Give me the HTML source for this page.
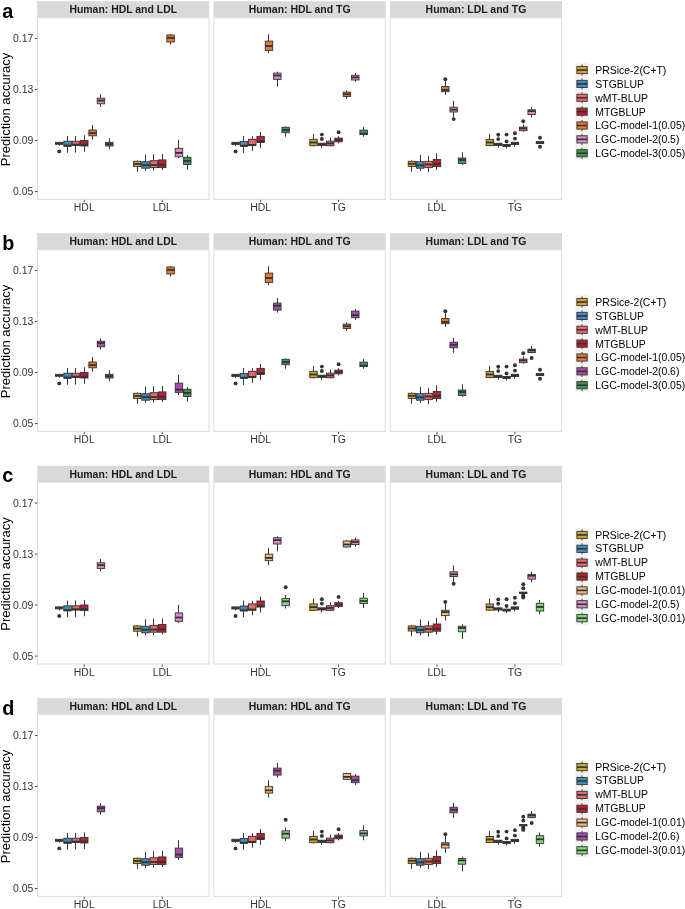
<!DOCTYPE html>
<html><head><meta charset="utf-8"><style>
html,body{margin:0;padding:0;background:#fff;}
svg{display:block;will-change:transform;}
text{font-family:"Liberation Sans",sans-serif;}
</style></head><body>
<svg xmlns="http://www.w3.org/2000/svg" width="685" height="909" viewBox="0 0 685 909">
<rect width="685" height="909" fill="#fff"/>
<text x="2.3" y="17.50" font-size="19.8" font-weight="700" fill="#000">a</text>
<text transform="translate(10.0 109.45) rotate(-90)" text-anchor="middle" font-size="13.0" fill="#000">Prediction accuracy</text>
<rect x="37.20" y="1.20" width="172.10" height="16.5" fill="#D9D9D9"/>
<text x="123.25" y="13.20" text-anchor="middle" font-size="10.45" font-weight="700" fill="#1A1A1A">Human: HDL and LDL</text>
<rect x="37.50" y="17.70" width="171.50" height="181.70" fill="#fff" stroke="#DCDCDC" stroke-width="1"/>
<line x1="84.27" x2="84.27" y1="199.90" y2="202.20" stroke="#333" stroke-width="0.9"/>
<text x="84.27" y="211.30" text-anchor="middle" font-size="10.45" fill="#333333">HDL</text>
<line x1="162.23" x2="162.23" y1="199.90" y2="202.20" stroke="#333" stroke-width="0.9"/>
<text x="162.23" y="211.30" text-anchor="middle" font-size="10.45" fill="#333333">LDL</text>
<rect x="213.55" y="1.20" width="172.10" height="16.5" fill="#D9D9D9"/>
<text x="299.60" y="13.20" text-anchor="middle" font-size="10.45" font-weight="700" fill="#1A1A1A">Human: HDL and TG</text>
<rect x="213.85" y="17.70" width="171.50" height="181.70" fill="#fff" stroke="#DCDCDC" stroke-width="1"/>
<line x1="260.62" x2="260.62" y1="199.90" y2="202.20" stroke="#333" stroke-width="0.9"/>
<text x="260.62" y="211.30" text-anchor="middle" font-size="10.45" fill="#333333">HDL</text>
<line x1="338.58" x2="338.58" y1="199.90" y2="202.20" stroke="#333" stroke-width="0.9"/>
<text x="338.58" y="211.30" text-anchor="middle" font-size="10.45" fill="#333333">TG</text>
<rect x="389.90" y="1.20" width="172.10" height="16.5" fill="#D9D9D9"/>
<text x="475.95" y="13.20" text-anchor="middle" font-size="10.45" font-weight="700" fill="#1A1A1A">Human: LDL and TG</text>
<rect x="390.20" y="17.70" width="171.50" height="181.70" fill="#fff" stroke="#DCDCDC" stroke-width="1"/>
<line x1="436.97" x2="436.97" y1="199.90" y2="202.20" stroke="#333" stroke-width="0.9"/>
<text x="436.97" y="211.30" text-anchor="middle" font-size="10.45" fill="#333333">LDL</text>
<line x1="514.93" x2="514.93" y1="199.90" y2="202.20" stroke="#333" stroke-width="0.9"/>
<text x="514.93" y="211.30" text-anchor="middle" font-size="10.45" fill="#333333">TG</text>
<line x1="34.9" x2="37.4" y1="191.49" y2="191.49" stroke="#333" stroke-width="0.9"/>
<text x="33.3" y="195.49" text-anchor="end" font-size="10.45" fill="#333333">0.05</text>
<line x1="34.9" x2="37.4" y1="140.49" y2="140.49" stroke="#333" stroke-width="0.9"/>
<text x="33.3" y="144.49" text-anchor="end" font-size="10.45" fill="#333333">0.09</text>
<line x1="34.9" x2="37.4" y1="89.48" y2="89.48" stroke="#333" stroke-width="0.9"/>
<text x="33.3" y="93.48" text-anchor="end" font-size="10.45" fill="#333333">0.13</text>
<line x1="34.9" x2="37.4" y1="38.47" y2="38.47" stroke="#333" stroke-width="0.9"/>
<text x="33.3" y="42.47" text-anchor="end" font-size="10.45" fill="#333333">0.17</text>
<line x1="59.50" x2="59.50" y1="142.00" y2="142.30" stroke="#333" stroke-width="1"/>
<line x1="59.50" x2="59.50" y1="144.30" y2="145.80" stroke="#333" stroke-width="1"/>
<rect x="55.49" y="142.30" width="7.45" height="2.00" fill="#D4A52A" stroke="#333" stroke-width="0.9"/>
<line x1="55.49" x2="62.94" y1="143.30" y2="143.30" stroke="#333" stroke-width="1.8"/>
<circle cx="59.22" cy="151.40" r="1.95" fill="#333"/>
<line x1="67.50" x2="67.50" y1="135.90" y2="141.20" stroke="#333" stroke-width="1"/>
<line x1="67.50" x2="67.50" y1="146.30" y2="152.70" stroke="#333" stroke-width="1"/>
<rect x="63.84" y="141.20" width="7.45" height="5.10" fill="#3D8CC4" stroke="#333" stroke-width="0.9"/>
<line x1="63.84" x2="71.29" y1="145.50" y2="145.50" stroke="#333" stroke-width="1.8"/>
<line x1="75.50" x2="75.50" y1="135.90" y2="141.20" stroke="#333" stroke-width="1"/>
<line x1="75.50" x2="75.50" y1="145.50" y2="152.60" stroke="#333" stroke-width="1"/>
<rect x="72.19" y="141.20" width="7.45" height="4.30" fill="#F06464" stroke="#333" stroke-width="0.9"/>
<line x1="72.19" x2="79.65" y1="144.60" y2="144.60" stroke="#333" stroke-width="1.8"/>
<line x1="84.50" x2="84.50" y1="135.30" y2="140.40" stroke="#333" stroke-width="1"/>
<line x1="84.50" x2="84.50" y1="146.00" y2="151.80" stroke="#333" stroke-width="1"/>
<rect x="80.55" y="140.40" width="7.45" height="5.60" fill="#BE1E2D" stroke="#333" stroke-width="0.9"/>
<line x1="80.55" x2="88.00" y1="144.60" y2="144.60" stroke="#333" stroke-width="1.8"/>
<line x1="92.50" x2="92.50" y1="125.00" y2="130.00" stroke="#333" stroke-width="1"/>
<line x1="92.50" x2="92.50" y1="135.80" y2="139.50" stroke="#333" stroke-width="1"/>
<rect x="88.90" y="130.00" width="7.45" height="5.80" fill="#E8792E" stroke="#333" stroke-width="0.9"/>
<line x1="88.90" x2="96.35" y1="133.10" y2="133.10" stroke="#333" stroke-width="1.8"/>
<line x1="100.50" x2="100.50" y1="94.20" y2="98.20" stroke="#333" stroke-width="1"/>
<line x1="100.50" x2="100.50" y1="103.80" y2="106.80" stroke="#333" stroke-width="1"/>
<rect x="97.25" y="98.20" width="7.45" height="5.60" fill="#D98BC8" stroke="#333" stroke-width="0.9"/>
<line x1="97.25" x2="104.70" y1="100.60" y2="100.60" stroke="#333" stroke-width="1.8"/>
<line x1="109.50" x2="109.50" y1="138.30" y2="142.30" stroke="#333" stroke-width="1"/>
<line x1="109.50" x2="109.50" y1="146.00" y2="149.30" stroke="#333" stroke-width="1"/>
<rect x="105.60" y="142.30" width="7.45" height="3.70" fill="#3C9A4A" stroke="#333" stroke-width="0.9"/>
<line x1="105.60" x2="113.06" y1="144.10" y2="144.10" stroke="#333" stroke-width="1.8"/>
<line x1="137.50" x2="137.50" y1="160.40" y2="161.30" stroke="#333" stroke-width="1"/>
<line x1="137.50" x2="137.50" y1="166.60" y2="171.80" stroke="#333" stroke-width="1"/>
<rect x="133.44" y="161.30" width="7.45" height="5.30" fill="#D4A52A" stroke="#333" stroke-width="0.9"/>
<line x1="133.44" x2="140.90" y1="164.00" y2="164.00" stroke="#333" stroke-width="1.8"/>
<line x1="145.50" x2="145.50" y1="154.80" y2="161.70" stroke="#333" stroke-width="1"/>
<line x1="145.50" x2="145.50" y1="168.20" y2="170.80" stroke="#333" stroke-width="1"/>
<rect x="141.80" y="161.70" width="7.45" height="6.50" fill="#3D8CC4" stroke="#333" stroke-width="0.9"/>
<line x1="141.80" x2="149.25" y1="165.20" y2="165.20" stroke="#333" stroke-width="1.8"/>
<line x1="153.50" x2="153.50" y1="154.20" y2="160.70" stroke="#333" stroke-width="1"/>
<line x1="153.50" x2="153.50" y1="167.60" y2="170.60" stroke="#333" stroke-width="1"/>
<rect x="150.15" y="160.70" width="7.45" height="6.90" fill="#F06464" stroke="#333" stroke-width="0.9"/>
<line x1="150.15" x2="157.60" y1="165.00" y2="165.00" stroke="#333" stroke-width="1.8"/>
<line x1="162.50" x2="162.50" y1="153.80" y2="159.90" stroke="#333" stroke-width="1"/>
<line x1="162.50" x2="162.50" y1="167.60" y2="169.90" stroke="#333" stroke-width="1"/>
<rect x="158.50" y="159.90" width="7.45" height="7.70" fill="#BE1E2D" stroke="#333" stroke-width="0.9"/>
<line x1="158.50" x2="165.95" y1="164.80" y2="164.80" stroke="#333" stroke-width="1.8"/>
<line x1="170.50" x2="170.50" y1="34.10" y2="34.95" stroke="#333" stroke-width="1"/>
<line x1="170.50" x2="170.50" y1="42.00" y2="44.60" stroke="#333" stroke-width="1"/>
<rect x="166.85" y="34.95" width="7.45" height="7.05" fill="#E8792E" stroke="#333" stroke-width="0.9"/>
<line x1="166.85" x2="174.31" y1="37.85" y2="37.85" stroke="#333" stroke-width="1.8"/>
<line x1="178.50" x2="178.50" y1="140.20" y2="148.30" stroke="#333" stroke-width="1"/>
<line x1="178.50" x2="178.50" y1="156.80" y2="158.20" stroke="#333" stroke-width="1"/>
<rect x="175.21" y="148.30" width="7.45" height="8.50" fill="#D98BC8" stroke="#333" stroke-width="0.9"/>
<line x1="175.21" x2="182.66" y1="152.90" y2="152.90" stroke="#333" stroke-width="1.8"/>
<line x1="187.50" x2="187.50" y1="155.00" y2="157.30" stroke="#333" stroke-width="1"/>
<line x1="187.50" x2="187.50" y1="164.50" y2="169.70" stroke="#333" stroke-width="1"/>
<rect x="183.56" y="157.30" width="7.45" height="7.20" fill="#3C9A4A" stroke="#333" stroke-width="0.9"/>
<line x1="183.56" x2="191.01" y1="161.00" y2="161.00" stroke="#333" stroke-width="1.8"/>
<line x1="235.50" x2="235.50" y1="142.00" y2="142.30" stroke="#333" stroke-width="1"/>
<line x1="235.50" x2="235.50" y1="144.40" y2="146.00" stroke="#333" stroke-width="1"/>
<rect x="231.84" y="142.30" width="7.45" height="2.10" fill="#D4A52A" stroke="#333" stroke-width="0.9"/>
<line x1="231.84" x2="239.29" y1="143.40" y2="143.40" stroke="#333" stroke-width="1.8"/>
<circle cx="235.57" cy="151.40" r="1.95" fill="#333"/>
<line x1="243.50" x2="243.50" y1="136.00" y2="141.40" stroke="#333" stroke-width="1"/>
<line x1="243.50" x2="243.50" y1="146.30" y2="152.80" stroke="#333" stroke-width="1"/>
<rect x="240.19" y="141.40" width="7.45" height="4.90" fill="#3D8CC4" stroke="#333" stroke-width="0.9"/>
<line x1="240.19" x2="247.64" y1="145.70" y2="145.70" stroke="#333" stroke-width="1.8"/>
<line x1="252.50" x2="252.50" y1="136.20" y2="139.30" stroke="#333" stroke-width="1"/>
<line x1="252.50" x2="252.50" y1="145.60" y2="150.70" stroke="#333" stroke-width="1"/>
<rect x="248.54" y="139.30" width="7.45" height="6.30" fill="#F06464" stroke="#333" stroke-width="0.9"/>
<line x1="248.54" x2="256.00" y1="144.90" y2="144.90" stroke="#333" stroke-width="1.8"/>
<line x1="260.50" x2="260.50" y1="132.00" y2="136.40" stroke="#333" stroke-width="1"/>
<line x1="260.50" x2="260.50" y1="142.50" y2="147.90" stroke="#333" stroke-width="1"/>
<rect x="256.90" y="136.40" width="7.45" height="6.10" fill="#BE1E2D" stroke="#333" stroke-width="0.9"/>
<line x1="256.90" x2="264.35" y1="141.20" y2="141.20" stroke="#333" stroke-width="1.8"/>
<line x1="268.50" x2="268.50" y1="34.10" y2="41.10" stroke="#333" stroke-width="1"/>
<line x1="268.50" x2="268.50" y1="50.40" y2="53.40" stroke="#333" stroke-width="1"/>
<rect x="265.25" y="41.10" width="7.45" height="9.30" fill="#E8792E" stroke="#333" stroke-width="0.9"/>
<line x1="265.25" x2="272.70" y1="46.00" y2="46.00" stroke="#333" stroke-width="1.8"/>
<line x1="277.50" x2="277.50" y1="71.70" y2="73.10" stroke="#333" stroke-width="1"/>
<line x1="277.50" x2="277.50" y1="79.40" y2="86.70" stroke="#333" stroke-width="1"/>
<rect x="273.60" y="73.10" width="7.45" height="6.30" fill="#D98BC8" stroke="#333" stroke-width="0.9"/>
<line x1="273.60" x2="281.05" y1="75.50" y2="75.50" stroke="#333" stroke-width="1.8"/>
<line x1="285.50" x2="285.50" y1="126.40" y2="127.30" stroke="#333" stroke-width="1"/>
<line x1="285.50" x2="285.50" y1="132.70" y2="136.70" stroke="#333" stroke-width="1"/>
<rect x="281.95" y="127.30" width="7.45" height="5.40" fill="#3C9A4A" stroke="#333" stroke-width="0.9"/>
<line x1="281.95" x2="289.41" y1="130.10" y2="130.10" stroke="#333" stroke-width="1.8"/>
<line x1="313.50" x2="313.50" y1="134.10" y2="139.30" stroke="#333" stroke-width="1"/>
<line x1="313.50" x2="313.50" y1="145.70" y2="146.50" stroke="#333" stroke-width="1"/>
<rect x="309.79" y="139.30" width="7.45" height="6.40" fill="#D4A52A" stroke="#333" stroke-width="0.9"/>
<line x1="309.79" x2="317.25" y1="142.50" y2="142.50" stroke="#333" stroke-width="1.8"/>
<line x1="321.50" x2="321.50" y1="143.00" y2="143.20" stroke="#333" stroke-width="1"/>
<line x1="321.50" x2="321.50" y1="145.40" y2="147.70" stroke="#333" stroke-width="1"/>
<rect x="318.15" y="143.20" width="7.45" height="2.20" fill="#3D8CC4" stroke="#333" stroke-width="0.9"/>
<line x1="318.15" x2="325.60" y1="144.30" y2="144.30" stroke="#333" stroke-width="1.8"/>
<circle cx="321.87" cy="134.60" r="1.95" fill="#333"/>
<circle cx="321.87" cy="139.00" r="1.95" fill="#333"/>
<line x1="330.50" x2="330.50" y1="137.60" y2="141.10" stroke="#333" stroke-width="1"/>
<line x1="330.50" x2="330.50" y1="145.70" y2="146.50" stroke="#333" stroke-width="1"/>
<rect x="326.50" y="141.10" width="7.45" height="4.60" fill="#F06464" stroke="#333" stroke-width="0.9"/>
<line x1="326.50" x2="333.95" y1="143.40" y2="143.40" stroke="#333" stroke-width="1.8"/>
<line x1="338.50" x2="338.50" y1="136.20" y2="138.10" stroke="#333" stroke-width="1"/>
<line x1="338.50" x2="338.50" y1="141.80" y2="143.40" stroke="#333" stroke-width="1"/>
<rect x="334.85" y="138.10" width="7.45" height="3.70" fill="#BE1E2D" stroke="#333" stroke-width="0.9"/>
<line x1="334.85" x2="342.30" y1="140.00" y2="140.00" stroke="#333" stroke-width="1.8"/>
<circle cx="338.58" cy="132.30" r="1.95" fill="#333"/>
<line x1="346.50" x2="346.50" y1="90.30" y2="92.10" stroke="#333" stroke-width="1"/>
<line x1="346.50" x2="346.50" y1="96.50" y2="98.70" stroke="#333" stroke-width="1"/>
<rect x="343.20" y="92.10" width="7.45" height="4.40" fill="#E8792E" stroke="#333" stroke-width="0.9"/>
<line x1="343.20" x2="350.66" y1="94.20" y2="94.20" stroke="#333" stroke-width="1.8"/>
<line x1="355.50" x2="355.50" y1="73.00" y2="75.30" stroke="#333" stroke-width="1"/>
<line x1="355.50" x2="355.50" y1="80.00" y2="81.90" stroke="#333" stroke-width="1"/>
<rect x="351.56" y="75.30" width="7.45" height="4.70" fill="#D98BC8" stroke="#333" stroke-width="0.9"/>
<line x1="351.56" x2="359.01" y1="77.40" y2="77.40" stroke="#333" stroke-width="1.8"/>
<line x1="363.50" x2="363.50" y1="127.10" y2="130.10" stroke="#333" stroke-width="1"/>
<line x1="363.50" x2="363.50" y1="134.60" y2="136.70" stroke="#333" stroke-width="1"/>
<rect x="359.91" y="130.10" width="7.45" height="4.50" fill="#3C9A4A" stroke="#333" stroke-width="0.9"/>
<line x1="359.91" x2="367.36" y1="133.70" y2="133.70" stroke="#333" stroke-width="1.8"/>
<line x1="411.50" x2="411.50" y1="160.40" y2="161.30" stroke="#333" stroke-width="1"/>
<line x1="411.50" x2="411.50" y1="166.40" y2="171.80" stroke="#333" stroke-width="1"/>
<rect x="408.19" y="161.30" width="7.45" height="5.10" fill="#D4A52A" stroke="#333" stroke-width="0.9"/>
<line x1="408.19" x2="415.64" y1="163.80" y2="163.80" stroke="#333" stroke-width="1.8"/>
<line x1="420.50" x2="420.50" y1="154.80" y2="161.70" stroke="#333" stroke-width="1"/>
<line x1="420.50" x2="420.50" y1="168.20" y2="170.80" stroke="#333" stroke-width="1"/>
<rect x="416.54" y="161.70" width="7.45" height="6.50" fill="#3D8CC4" stroke="#333" stroke-width="0.9"/>
<line x1="416.54" x2="423.99" y1="165.40" y2="165.40" stroke="#333" stroke-width="1.8"/>
<line x1="428.50" x2="428.50" y1="156.10" y2="161.30" stroke="#333" stroke-width="1"/>
<line x1="428.50" x2="428.50" y1="167.60" y2="172.00" stroke="#333" stroke-width="1"/>
<rect x="424.89" y="161.30" width="7.45" height="6.30" fill="#F06464" stroke="#333" stroke-width="0.9"/>
<line x1="424.89" x2="432.35" y1="164.50" y2="164.50" stroke="#333" stroke-width="1.8"/>
<line x1="436.50" x2="436.50" y1="153.30" y2="159.40" stroke="#333" stroke-width="1"/>
<line x1="436.50" x2="436.50" y1="166.60" y2="169.90" stroke="#333" stroke-width="1"/>
<rect x="433.25" y="159.40" width="7.45" height="7.20" fill="#BE1E2D" stroke="#333" stroke-width="0.9"/>
<line x1="433.25" x2="440.70" y1="164.10" y2="164.10" stroke="#333" stroke-width="1.8"/>
<line x1="445.50" x2="445.50" y1="81.20" y2="86.60" stroke="#333" stroke-width="1"/>
<line x1="445.50" x2="445.50" y1="91.70" y2="95.00" stroke="#333" stroke-width="1"/>
<rect x="441.60" y="86.60" width="7.45" height="5.10" fill="#E8792E" stroke="#333" stroke-width="0.9"/>
<line x1="441.60" x2="449.05" y1="90.00" y2="90.00" stroke="#333" stroke-width="1.8"/>
<circle cx="445.32" cy="79.30" r="1.95" fill="#333"/>
<line x1="453.50" x2="453.50" y1="100.80" y2="107.20" stroke="#333" stroke-width="1"/>
<line x1="453.50" x2="453.50" y1="112.00" y2="117.20" stroke="#333" stroke-width="1"/>
<rect x="449.95" y="107.20" width="7.45" height="4.80" fill="#D98BC8" stroke="#333" stroke-width="0.9"/>
<line x1="449.95" x2="457.40" y1="109.70" y2="109.70" stroke="#333" stroke-width="1.8"/>
<circle cx="453.68" cy="119.10" r="1.95" fill="#333"/>
<line x1="462.50" x2="462.50" y1="152.30" y2="158.00" stroke="#333" stroke-width="1"/>
<line x1="462.50" x2="462.50" y1="163.50" y2="164.80" stroke="#333" stroke-width="1"/>
<rect x="458.30" y="158.00" width="7.45" height="5.50" fill="#3C9A4A" stroke="#333" stroke-width="0.9"/>
<line x1="458.30" x2="465.76" y1="159.90" y2="159.90" stroke="#333" stroke-width="1.8"/>
<line x1="489.50" x2="489.50" y1="134.10" y2="139.40" stroke="#333" stroke-width="1"/>
<line x1="489.50" x2="489.50" y1="145.60" y2="146.20" stroke="#333" stroke-width="1"/>
<rect x="486.14" y="139.40" width="7.45" height="6.20" fill="#D4A52A" stroke="#333" stroke-width="0.9"/>
<line x1="486.14" x2="493.60" y1="142.50" y2="142.50" stroke="#333" stroke-width="1.8"/>
<line x1="498.50" x2="498.50" y1="143.00" y2="143.20" stroke="#333" stroke-width="1"/>
<line x1="498.50" x2="498.50" y1="145.40" y2="147.60" stroke="#333" stroke-width="1"/>
<rect x="494.50" y="143.20" width="7.45" height="2.20" fill="#3D8CC4" stroke="#333" stroke-width="0.9"/>
<line x1="494.50" x2="501.95" y1="144.30" y2="144.30" stroke="#333" stroke-width="1.8"/>
<circle cx="498.22" cy="134.80" r="1.95" fill="#333"/>
<circle cx="498.22" cy="139.10" r="1.95" fill="#333"/>
<line x1="506.50" x2="506.50" y1="144.30" y2="144.50" stroke="#333" stroke-width="1"/>
<line x1="506.50" x2="506.50" y1="146.50" y2="148.40" stroke="#333" stroke-width="1"/>
<rect x="502.85" y="144.50" width="7.45" height="2.00" fill="#F06464" stroke="#333" stroke-width="0.9"/>
<line x1="502.85" x2="510.30" y1="145.50" y2="145.50" stroke="#333" stroke-width="1.8"/>
<circle cx="506.57" cy="134.60" r="1.95" fill="#333"/>
<circle cx="506.57" cy="141.40" r="1.95" fill="#333"/>
<line x1="514.50" x2="514.50" y1="142.10" y2="142.30" stroke="#333" stroke-width="1"/>
<line x1="514.50" x2="514.50" y1="144.60" y2="146.70" stroke="#333" stroke-width="1"/>
<rect x="511.20" y="142.30" width="7.45" height="2.30" fill="#BE1E2D" stroke="#333" stroke-width="0.9"/>
<line x1="511.20" x2="518.65" y1="143.40" y2="143.40" stroke="#333" stroke-width="1.8"/>
<circle cx="514.93" cy="133.20" r="1.95" fill="#333"/>
<circle cx="514.93" cy="138.60" r="1.95" fill="#333"/>
<line x1="523.50" x2="523.50" y1="124.50" y2="127.10" stroke="#333" stroke-width="1"/>
<line x1="523.50" x2="523.50" y1="130.60" y2="131.80" stroke="#333" stroke-width="1"/>
<rect x="519.55" y="127.10" width="7.45" height="3.50" fill="#E8792E" stroke="#333" stroke-width="0.9"/>
<line x1="519.55" x2="527.01" y1="128.30" y2="128.30" stroke="#333" stroke-width="1.8"/>
<circle cx="523.28" cy="121.30" r="1.95" fill="#333"/>
<line x1="531.50" x2="531.50" y1="107.00" y2="109.80" stroke="#333" stroke-width="1"/>
<line x1="531.50" x2="531.50" y1="114.50" y2="117.60" stroke="#333" stroke-width="1"/>
<rect x="527.91" y="109.80" width="7.45" height="4.70" fill="#D98BC8" stroke="#333" stroke-width="0.9"/>
<line x1="527.91" x2="535.36" y1="111.10" y2="111.10" stroke="#333" stroke-width="1.8"/>
<line x1="539.50" x2="539.50" y1="141.20" y2="141.40" stroke="#333" stroke-width="1"/>
<line x1="539.50" x2="539.50" y1="143.60" y2="143.80" stroke="#333" stroke-width="1"/>
<rect x="536.26" y="141.40" width="7.45" height="2.20" fill="#3C9A4A" stroke="#333" stroke-width="0.9"/>
<line x1="536.26" x2="543.71" y1="142.50" y2="142.50" stroke="#333" stroke-width="1.8"/>
<circle cx="539.98" cy="137.80" r="1.95" fill="#333"/>
<circle cx="539.98" cy="146.70" r="1.95" fill="#333"/>
<rect x="575.1" y="63.10" width="13.7" height="97.09" fill="#F2F2F2"/>
<line x1="582" x2="582" y1="64.44" y2="75.63" stroke="#333" stroke-width="0.9"/>
<rect x="576.9" y="66.44" width="10.3" height="7.2" fill="#D4A52A" stroke="#333" stroke-width="0.9"/>
<line x1="576.9" x2="587.2" y1="70.03" y2="70.03" stroke="#333" stroke-width="1.6"/>
<text x="595.3" y="73.93" font-size="10.45" fill="#000">PRSice-2(C+T)</text>
<line x1="582" x2="582" y1="78.31" y2="89.50" stroke="#333" stroke-width="0.9"/>
<rect x="576.9" y="80.31" width="10.3" height="7.2" fill="#3D8CC4" stroke="#333" stroke-width="0.9"/>
<line x1="576.9" x2="587.2" y1="83.91" y2="83.91" stroke="#333" stroke-width="1.6"/>
<text x="595.3" y="87.80" font-size="10.45" fill="#000">STGBLUP</text>
<line x1="582" x2="582" y1="92.18" y2="103.38" stroke="#333" stroke-width="0.9"/>
<rect x="576.9" y="94.18" width="10.3" height="7.2" fill="#F06464" stroke="#333" stroke-width="0.9"/>
<line x1="576.9" x2="587.2" y1="97.78" y2="97.78" stroke="#333" stroke-width="1.6"/>
<text x="595.3" y="101.67" font-size="10.45" fill="#000">wMT-BLUP</text>
<line x1="582" x2="582" y1="106.05" y2="117.25" stroke="#333" stroke-width="0.9"/>
<rect x="576.9" y="108.05" width="10.3" height="7.2" fill="#BE1E2D" stroke="#333" stroke-width="0.9"/>
<line x1="576.9" x2="587.2" y1="111.65" y2="111.65" stroke="#333" stroke-width="1.6"/>
<text x="595.3" y="115.55" font-size="10.45" fill="#000">MTGBLUP</text>
<line x1="582" x2="582" y1="119.92" y2="131.12" stroke="#333" stroke-width="0.9"/>
<rect x="576.9" y="121.92" width="10.3" height="7.2" fill="#E8792E" stroke="#333" stroke-width="0.9"/>
<line x1="576.9" x2="587.2" y1="125.52" y2="125.52" stroke="#333" stroke-width="1.6"/>
<text x="595.3" y="129.42" font-size="10.45" fill="#000">LGC-model-1(0.05)</text>
<line x1="582" x2="582" y1="133.78" y2="144.98" stroke="#333" stroke-width="0.9"/>
<rect x="576.9" y="135.78" width="10.3" height="7.2" fill="#D98BC8" stroke="#333" stroke-width="0.9"/>
<line x1="576.9" x2="587.2" y1="139.38" y2="139.38" stroke="#333" stroke-width="1.6"/>
<text x="595.3" y="143.28" font-size="10.45" fill="#000">LGC-model-2(0.5)</text>
<line x1="582" x2="582" y1="147.66" y2="158.85" stroke="#333" stroke-width="0.9"/>
<rect x="576.9" y="149.66" width="10.3" height="7.2" fill="#3C9A4A" stroke="#333" stroke-width="0.9"/>
<line x1="576.9" x2="587.2" y1="153.25" y2="153.25" stroke="#333" stroke-width="1.6"/>
<text x="595.3" y="157.16" font-size="10.45" fill="#000">LGC-model-3(0.05)</text>
<text x="2.3" y="249.50" font-size="19.8" font-weight="700" fill="#000">b</text>
<text transform="translate(10.0 341.45) rotate(-90)" text-anchor="middle" font-size="13.0" fill="#000">Prediction accuracy</text>
<rect x="37.20" y="233.20" width="172.10" height="16.5" fill="#D9D9D9"/>
<text x="123.25" y="245.20" text-anchor="middle" font-size="10.45" font-weight="700" fill="#1A1A1A">Human: HDL and LDL</text>
<rect x="37.50" y="249.70" width="171.50" height="181.70" fill="#fff" stroke="#DCDCDC" stroke-width="1"/>
<line x1="84.27" x2="84.27" y1="431.90" y2="434.20" stroke="#333" stroke-width="0.9"/>
<text x="84.27" y="443.30" text-anchor="middle" font-size="10.45" fill="#333333">HDL</text>
<line x1="162.23" x2="162.23" y1="431.90" y2="434.20" stroke="#333" stroke-width="0.9"/>
<text x="162.23" y="443.30" text-anchor="middle" font-size="10.45" fill="#333333">LDL</text>
<rect x="213.55" y="233.20" width="172.10" height="16.5" fill="#D9D9D9"/>
<text x="299.60" y="245.20" text-anchor="middle" font-size="10.45" font-weight="700" fill="#1A1A1A">Human: HDL and TG</text>
<rect x="213.85" y="249.70" width="171.50" height="181.70" fill="#fff" stroke="#DCDCDC" stroke-width="1"/>
<line x1="260.62" x2="260.62" y1="431.90" y2="434.20" stroke="#333" stroke-width="0.9"/>
<text x="260.62" y="443.30" text-anchor="middle" font-size="10.45" fill="#333333">HDL</text>
<line x1="338.58" x2="338.58" y1="431.90" y2="434.20" stroke="#333" stroke-width="0.9"/>
<text x="338.58" y="443.30" text-anchor="middle" font-size="10.45" fill="#333333">TG</text>
<rect x="389.90" y="233.20" width="172.10" height="16.5" fill="#D9D9D9"/>
<text x="475.95" y="245.20" text-anchor="middle" font-size="10.45" font-weight="700" fill="#1A1A1A">Human: LDL and TG</text>
<rect x="390.20" y="249.70" width="171.50" height="181.70" fill="#fff" stroke="#DCDCDC" stroke-width="1"/>
<line x1="436.97" x2="436.97" y1="431.90" y2="434.20" stroke="#333" stroke-width="0.9"/>
<text x="436.97" y="443.30" text-anchor="middle" font-size="10.45" fill="#333333">LDL</text>
<line x1="514.93" x2="514.93" y1="431.90" y2="434.20" stroke="#333" stroke-width="0.9"/>
<text x="514.93" y="443.30" text-anchor="middle" font-size="10.45" fill="#333333">TG</text>
<line x1="34.9" x2="37.4" y1="423.49" y2="423.49" stroke="#333" stroke-width="0.9"/>
<text x="33.3" y="427.49" text-anchor="end" font-size="10.45" fill="#333333">0.05</text>
<line x1="34.9" x2="37.4" y1="372.49" y2="372.49" stroke="#333" stroke-width="0.9"/>
<text x="33.3" y="376.49" text-anchor="end" font-size="10.45" fill="#333333">0.09</text>
<line x1="34.9" x2="37.4" y1="321.48" y2="321.48" stroke="#333" stroke-width="0.9"/>
<text x="33.3" y="325.48" text-anchor="end" font-size="10.45" fill="#333333">0.13</text>
<line x1="34.9" x2="37.4" y1="270.47" y2="270.47" stroke="#333" stroke-width="0.9"/>
<text x="33.3" y="274.47" text-anchor="end" font-size="10.45" fill="#333333">0.17</text>
<line x1="59.50" x2="59.50" y1="374.00" y2="374.30" stroke="#333" stroke-width="1"/>
<line x1="59.50" x2="59.50" y1="376.30" y2="377.80" stroke="#333" stroke-width="1"/>
<rect x="55.49" y="374.30" width="7.45" height="2.00" fill="#D4A52A" stroke="#333" stroke-width="0.9"/>
<line x1="55.49" x2="62.94" y1="375.30" y2="375.30" stroke="#333" stroke-width="1.8"/>
<circle cx="59.22" cy="383.40" r="1.95" fill="#333"/>
<line x1="67.50" x2="67.50" y1="367.90" y2="373.20" stroke="#333" stroke-width="1"/>
<line x1="67.50" x2="67.50" y1="378.30" y2="384.70" stroke="#333" stroke-width="1"/>
<rect x="63.84" y="373.20" width="7.45" height="5.10" fill="#3D8CC4" stroke="#333" stroke-width="0.9"/>
<line x1="63.84" x2="71.29" y1="377.50" y2="377.50" stroke="#333" stroke-width="1.8"/>
<line x1="75.50" x2="75.50" y1="367.90" y2="373.20" stroke="#333" stroke-width="1"/>
<line x1="75.50" x2="75.50" y1="377.50" y2="384.60" stroke="#333" stroke-width="1"/>
<rect x="72.19" y="373.20" width="7.45" height="4.30" fill="#F06464" stroke="#333" stroke-width="0.9"/>
<line x1="72.19" x2="79.65" y1="376.60" y2="376.60" stroke="#333" stroke-width="1.8"/>
<line x1="84.50" x2="84.50" y1="367.30" y2="372.40" stroke="#333" stroke-width="1"/>
<line x1="84.50" x2="84.50" y1="378.00" y2="383.80" stroke="#333" stroke-width="1"/>
<rect x="80.55" y="372.40" width="7.45" height="5.60" fill="#BE1E2D" stroke="#333" stroke-width="0.9"/>
<line x1="80.55" x2="88.00" y1="376.60" y2="376.60" stroke="#333" stroke-width="1.8"/>
<line x1="92.50" x2="92.50" y1="357.00" y2="362.00" stroke="#333" stroke-width="1"/>
<line x1="92.50" x2="92.50" y1="367.80" y2="371.50" stroke="#333" stroke-width="1"/>
<rect x="88.90" y="362.00" width="7.45" height="5.80" fill="#E8792E" stroke="#333" stroke-width="0.9"/>
<line x1="88.90" x2="96.35" y1="365.10" y2="365.10" stroke="#333" stroke-width="1.8"/>
<line x1="100.50" x2="100.50" y1="338.20" y2="341.20" stroke="#333" stroke-width="1"/>
<line x1="100.50" x2="100.50" y1="346.80" y2="349.60" stroke="#333" stroke-width="1"/>
<rect x="97.25" y="341.20" width="7.45" height="5.60" fill="#A84CB0" stroke="#333" stroke-width="0.9"/>
<line x1="97.25" x2="104.70" y1="343.10" y2="343.10" stroke="#333" stroke-width="1.8"/>
<line x1="109.50" x2="109.50" y1="370.30" y2="374.30" stroke="#333" stroke-width="1"/>
<line x1="109.50" x2="109.50" y1="378.00" y2="381.30" stroke="#333" stroke-width="1"/>
<rect x="105.60" y="374.30" width="7.45" height="3.70" fill="#3C9A4A" stroke="#333" stroke-width="0.9"/>
<line x1="105.60" x2="113.06" y1="376.10" y2="376.10" stroke="#333" stroke-width="1.8"/>
<line x1="137.50" x2="137.50" y1="392.40" y2="393.30" stroke="#333" stroke-width="1"/>
<line x1="137.50" x2="137.50" y1="398.60" y2="403.80" stroke="#333" stroke-width="1"/>
<rect x="133.44" y="393.30" width="7.45" height="5.30" fill="#D4A52A" stroke="#333" stroke-width="0.9"/>
<line x1="133.44" x2="140.90" y1="396.00" y2="396.00" stroke="#333" stroke-width="1.8"/>
<line x1="145.50" x2="145.50" y1="386.80" y2="393.70" stroke="#333" stroke-width="1"/>
<line x1="145.50" x2="145.50" y1="400.20" y2="402.80" stroke="#333" stroke-width="1"/>
<rect x="141.80" y="393.70" width="7.45" height="6.50" fill="#3D8CC4" stroke="#333" stroke-width="0.9"/>
<line x1="141.80" x2="149.25" y1="397.20" y2="397.20" stroke="#333" stroke-width="1.8"/>
<line x1="153.50" x2="153.50" y1="386.20" y2="392.70" stroke="#333" stroke-width="1"/>
<line x1="153.50" x2="153.50" y1="399.60" y2="402.60" stroke="#333" stroke-width="1"/>
<rect x="150.15" y="392.70" width="7.45" height="6.90" fill="#F06464" stroke="#333" stroke-width="0.9"/>
<line x1="150.15" x2="157.60" y1="397.00" y2="397.00" stroke="#333" stroke-width="1.8"/>
<line x1="162.50" x2="162.50" y1="385.80" y2="391.90" stroke="#333" stroke-width="1"/>
<line x1="162.50" x2="162.50" y1="399.60" y2="401.90" stroke="#333" stroke-width="1"/>
<rect x="158.50" y="391.90" width="7.45" height="7.70" fill="#BE1E2D" stroke="#333" stroke-width="0.9"/>
<line x1="158.50" x2="165.95" y1="396.80" y2="396.80" stroke="#333" stroke-width="1.8"/>
<line x1="170.50" x2="170.50" y1="266.10" y2="266.95" stroke="#333" stroke-width="1"/>
<line x1="170.50" x2="170.50" y1="274.00" y2="276.60" stroke="#333" stroke-width="1"/>
<rect x="166.85" y="266.95" width="7.45" height="7.05" fill="#E8792E" stroke="#333" stroke-width="0.9"/>
<line x1="166.85" x2="174.31" y1="269.85" y2="269.85" stroke="#333" stroke-width="1.8"/>
<line x1="178.50" x2="178.50" y1="375.10" y2="383.10" stroke="#333" stroke-width="1"/>
<line x1="178.50" x2="178.50" y1="392.40" y2="395.00" stroke="#333" stroke-width="1"/>
<rect x="175.21" y="383.10" width="7.45" height="9.30" fill="#A84CB0" stroke="#333" stroke-width="0.9"/>
<line x1="175.21" x2="182.66" y1="389.60" y2="389.60" stroke="#333" stroke-width="1.8"/>
<line x1="187.50" x2="187.50" y1="387.00" y2="389.30" stroke="#333" stroke-width="1"/>
<line x1="187.50" x2="187.50" y1="396.50" y2="401.70" stroke="#333" stroke-width="1"/>
<rect x="183.56" y="389.30" width="7.45" height="7.20" fill="#3C9A4A" stroke="#333" stroke-width="0.9"/>
<line x1="183.56" x2="191.01" y1="393.00" y2="393.00" stroke="#333" stroke-width="1.8"/>
<line x1="235.50" x2="235.50" y1="374.00" y2="374.30" stroke="#333" stroke-width="1"/>
<line x1="235.50" x2="235.50" y1="376.40" y2="378.00" stroke="#333" stroke-width="1"/>
<rect x="231.84" y="374.30" width="7.45" height="2.10" fill="#D4A52A" stroke="#333" stroke-width="0.9"/>
<line x1="231.84" x2="239.29" y1="375.40" y2="375.40" stroke="#333" stroke-width="1.8"/>
<circle cx="235.57" cy="383.40" r="1.95" fill="#333"/>
<line x1="243.50" x2="243.50" y1="368.00" y2="373.40" stroke="#333" stroke-width="1"/>
<line x1="243.50" x2="243.50" y1="378.30" y2="384.80" stroke="#333" stroke-width="1"/>
<rect x="240.19" y="373.40" width="7.45" height="4.90" fill="#3D8CC4" stroke="#333" stroke-width="0.9"/>
<line x1="240.19" x2="247.64" y1="377.70" y2="377.70" stroke="#333" stroke-width="1.8"/>
<line x1="252.50" x2="252.50" y1="368.20" y2="371.30" stroke="#333" stroke-width="1"/>
<line x1="252.50" x2="252.50" y1="377.60" y2="382.70" stroke="#333" stroke-width="1"/>
<rect x="248.54" y="371.30" width="7.45" height="6.30" fill="#F06464" stroke="#333" stroke-width="0.9"/>
<line x1="248.54" x2="256.00" y1="376.90" y2="376.90" stroke="#333" stroke-width="1.8"/>
<line x1="260.50" x2="260.50" y1="364.00" y2="368.40" stroke="#333" stroke-width="1"/>
<line x1="260.50" x2="260.50" y1="374.50" y2="379.90" stroke="#333" stroke-width="1"/>
<rect x="256.90" y="368.40" width="7.45" height="6.10" fill="#BE1E2D" stroke="#333" stroke-width="0.9"/>
<line x1="256.90" x2="264.35" y1="373.20" y2="373.20" stroke="#333" stroke-width="1.8"/>
<line x1="268.50" x2="268.50" y1="266.10" y2="273.10" stroke="#333" stroke-width="1"/>
<line x1="268.50" x2="268.50" y1="282.40" y2="285.40" stroke="#333" stroke-width="1"/>
<rect x="265.25" y="273.10" width="7.45" height="9.30" fill="#E8792E" stroke="#333" stroke-width="0.9"/>
<line x1="265.25" x2="272.70" y1="278.00" y2="278.00" stroke="#333" stroke-width="1.8"/>
<line x1="277.50" x2="277.50" y1="298.00" y2="303.10" stroke="#333" stroke-width="1"/>
<line x1="277.50" x2="277.50" y1="310.10" y2="312.60" stroke="#333" stroke-width="1"/>
<rect x="273.60" y="303.10" width="7.45" height="7.00" fill="#A84CB0" stroke="#333" stroke-width="0.9"/>
<line x1="273.60" x2="281.05" y1="305.70" y2="305.70" stroke="#333" stroke-width="1.8"/>
<line x1="285.50" x2="285.50" y1="358.40" y2="359.30" stroke="#333" stroke-width="1"/>
<line x1="285.50" x2="285.50" y1="364.70" y2="368.70" stroke="#333" stroke-width="1"/>
<rect x="281.95" y="359.30" width="7.45" height="5.40" fill="#3C9A4A" stroke="#333" stroke-width="0.9"/>
<line x1="281.95" x2="289.41" y1="362.10" y2="362.10" stroke="#333" stroke-width="1.8"/>
<line x1="313.50" x2="313.50" y1="366.10" y2="371.30" stroke="#333" stroke-width="1"/>
<line x1="313.50" x2="313.50" y1="377.70" y2="378.50" stroke="#333" stroke-width="1"/>
<rect x="309.79" y="371.30" width="7.45" height="6.40" fill="#D4A52A" stroke="#333" stroke-width="0.9"/>
<line x1="309.79" x2="317.25" y1="374.50" y2="374.50" stroke="#333" stroke-width="1.8"/>
<line x1="321.50" x2="321.50" y1="375.00" y2="375.20" stroke="#333" stroke-width="1"/>
<line x1="321.50" x2="321.50" y1="377.40" y2="379.70" stroke="#333" stroke-width="1"/>
<rect x="318.15" y="375.20" width="7.45" height="2.20" fill="#3D8CC4" stroke="#333" stroke-width="0.9"/>
<line x1="318.15" x2="325.60" y1="376.30" y2="376.30" stroke="#333" stroke-width="1.8"/>
<circle cx="321.87" cy="366.60" r="1.95" fill="#333"/>
<circle cx="321.87" cy="371.00" r="1.95" fill="#333"/>
<line x1="330.50" x2="330.50" y1="369.60" y2="373.10" stroke="#333" stroke-width="1"/>
<line x1="330.50" x2="330.50" y1="377.70" y2="378.50" stroke="#333" stroke-width="1"/>
<rect x="326.50" y="373.10" width="7.45" height="4.60" fill="#F06464" stroke="#333" stroke-width="0.9"/>
<line x1="326.50" x2="333.95" y1="375.40" y2="375.40" stroke="#333" stroke-width="1.8"/>
<line x1="338.50" x2="338.50" y1="368.20" y2="370.10" stroke="#333" stroke-width="1"/>
<line x1="338.50" x2="338.50" y1="373.80" y2="375.40" stroke="#333" stroke-width="1"/>
<rect x="334.85" y="370.10" width="7.45" height="3.70" fill="#BE1E2D" stroke="#333" stroke-width="0.9"/>
<line x1="334.85" x2="342.30" y1="372.00" y2="372.00" stroke="#333" stroke-width="1.8"/>
<circle cx="338.58" cy="364.30" r="1.95" fill="#333"/>
<line x1="346.50" x2="346.50" y1="322.30" y2="324.10" stroke="#333" stroke-width="1"/>
<line x1="346.50" x2="346.50" y1="328.50" y2="330.70" stroke="#333" stroke-width="1"/>
<rect x="343.20" y="324.10" width="7.45" height="4.40" fill="#E8792E" stroke="#333" stroke-width="0.9"/>
<line x1="343.20" x2="350.66" y1="326.20" y2="326.20" stroke="#333" stroke-width="1.8"/>
<line x1="355.50" x2="355.50" y1="309.10" y2="311.10" stroke="#333" stroke-width="1"/>
<line x1="355.50" x2="355.50" y1="317.70" y2="319.80" stroke="#333" stroke-width="1"/>
<rect x="351.56" y="311.10" width="7.45" height="6.60" fill="#A84CB0" stroke="#333" stroke-width="0.9"/>
<line x1="351.56" x2="359.01" y1="315.20" y2="315.20" stroke="#333" stroke-width="1.8"/>
<line x1="363.50" x2="363.50" y1="359.10" y2="362.10" stroke="#333" stroke-width="1"/>
<line x1="363.50" x2="363.50" y1="366.60" y2="368.70" stroke="#333" stroke-width="1"/>
<rect x="359.91" y="362.10" width="7.45" height="4.50" fill="#3C9A4A" stroke="#333" stroke-width="0.9"/>
<line x1="359.91" x2="367.36" y1="365.70" y2="365.70" stroke="#333" stroke-width="1.8"/>
<line x1="411.50" x2="411.50" y1="392.40" y2="393.30" stroke="#333" stroke-width="1"/>
<line x1="411.50" x2="411.50" y1="398.40" y2="403.80" stroke="#333" stroke-width="1"/>
<rect x="408.19" y="393.30" width="7.45" height="5.10" fill="#D4A52A" stroke="#333" stroke-width="0.9"/>
<line x1="408.19" x2="415.64" y1="395.80" y2="395.80" stroke="#333" stroke-width="1.8"/>
<line x1="420.50" x2="420.50" y1="386.80" y2="393.70" stroke="#333" stroke-width="1"/>
<line x1="420.50" x2="420.50" y1="400.20" y2="402.80" stroke="#333" stroke-width="1"/>
<rect x="416.54" y="393.70" width="7.45" height="6.50" fill="#3D8CC4" stroke="#333" stroke-width="0.9"/>
<line x1="416.54" x2="423.99" y1="397.40" y2="397.40" stroke="#333" stroke-width="1.8"/>
<line x1="428.50" x2="428.50" y1="388.10" y2="393.30" stroke="#333" stroke-width="1"/>
<line x1="428.50" x2="428.50" y1="399.60" y2="404.00" stroke="#333" stroke-width="1"/>
<rect x="424.89" y="393.30" width="7.45" height="6.30" fill="#F06464" stroke="#333" stroke-width="0.9"/>
<line x1="424.89" x2="432.35" y1="396.50" y2="396.50" stroke="#333" stroke-width="1.8"/>
<line x1="436.50" x2="436.50" y1="385.30" y2="391.40" stroke="#333" stroke-width="1"/>
<line x1="436.50" x2="436.50" y1="398.60" y2="401.90" stroke="#333" stroke-width="1"/>
<rect x="433.25" y="391.40" width="7.45" height="7.20" fill="#BE1E2D" stroke="#333" stroke-width="0.9"/>
<line x1="433.25" x2="440.70" y1="396.10" y2="396.10" stroke="#333" stroke-width="1.8"/>
<line x1="445.50" x2="445.50" y1="313.20" y2="318.60" stroke="#333" stroke-width="1"/>
<line x1="445.50" x2="445.50" y1="323.70" y2="327.00" stroke="#333" stroke-width="1"/>
<rect x="441.60" y="318.60" width="7.45" height="5.10" fill="#E8792E" stroke="#333" stroke-width="0.9"/>
<line x1="441.60" x2="449.05" y1="322.00" y2="322.00" stroke="#333" stroke-width="1.8"/>
<circle cx="445.32" cy="311.30" r="1.95" fill="#333"/>
<line x1="453.50" x2="453.50" y1="337.80" y2="342.20" stroke="#333" stroke-width="1"/>
<line x1="453.50" x2="453.50" y1="347.80" y2="352.80" stroke="#333" stroke-width="1"/>
<rect x="449.95" y="342.20" width="7.45" height="5.60" fill="#A84CB0" stroke="#333" stroke-width="0.9"/>
<line x1="449.95" x2="457.40" y1="344.80" y2="344.80" stroke="#333" stroke-width="1.8"/>
<line x1="462.50" x2="462.50" y1="384.30" y2="390.00" stroke="#333" stroke-width="1"/>
<line x1="462.50" x2="462.50" y1="395.50" y2="396.80" stroke="#333" stroke-width="1"/>
<rect x="458.30" y="390.00" width="7.45" height="5.50" fill="#3C9A4A" stroke="#333" stroke-width="0.9"/>
<line x1="458.30" x2="465.76" y1="391.90" y2="391.90" stroke="#333" stroke-width="1.8"/>
<line x1="489.50" x2="489.50" y1="366.10" y2="371.40" stroke="#333" stroke-width="1"/>
<line x1="489.50" x2="489.50" y1="377.60" y2="378.20" stroke="#333" stroke-width="1"/>
<rect x="486.14" y="371.40" width="7.45" height="6.20" fill="#D4A52A" stroke="#333" stroke-width="0.9"/>
<line x1="486.14" x2="493.60" y1="374.50" y2="374.50" stroke="#333" stroke-width="1.8"/>
<line x1="498.50" x2="498.50" y1="375.00" y2="375.20" stroke="#333" stroke-width="1"/>
<line x1="498.50" x2="498.50" y1="377.40" y2="379.60" stroke="#333" stroke-width="1"/>
<rect x="494.50" y="375.20" width="7.45" height="2.20" fill="#3D8CC4" stroke="#333" stroke-width="0.9"/>
<line x1="494.50" x2="501.95" y1="376.30" y2="376.30" stroke="#333" stroke-width="1.8"/>
<circle cx="498.22" cy="366.80" r="1.95" fill="#333"/>
<circle cx="498.22" cy="371.10" r="1.95" fill="#333"/>
<line x1="506.50" x2="506.50" y1="376.30" y2="376.50" stroke="#333" stroke-width="1"/>
<line x1="506.50" x2="506.50" y1="378.50" y2="380.40" stroke="#333" stroke-width="1"/>
<rect x="502.85" y="376.50" width="7.45" height="2.00" fill="#F06464" stroke="#333" stroke-width="0.9"/>
<line x1="502.85" x2="510.30" y1="377.50" y2="377.50" stroke="#333" stroke-width="1.8"/>
<circle cx="506.57" cy="366.60" r="1.95" fill="#333"/>
<circle cx="506.57" cy="373.40" r="1.95" fill="#333"/>
<line x1="514.50" x2="514.50" y1="374.10" y2="374.30" stroke="#333" stroke-width="1"/>
<line x1="514.50" x2="514.50" y1="376.60" y2="378.70" stroke="#333" stroke-width="1"/>
<rect x="511.20" y="374.30" width="7.45" height="2.30" fill="#BE1E2D" stroke="#333" stroke-width="0.9"/>
<line x1="511.20" x2="518.65" y1="375.40" y2="375.40" stroke="#333" stroke-width="1.8"/>
<circle cx="514.93" cy="365.20" r="1.95" fill="#333"/>
<circle cx="514.93" cy="370.60" r="1.95" fill="#333"/>
<line x1="523.50" x2="523.50" y1="356.50" y2="359.10" stroke="#333" stroke-width="1"/>
<line x1="523.50" x2="523.50" y1="362.60" y2="363.80" stroke="#333" stroke-width="1"/>
<rect x="519.55" y="359.10" width="7.45" height="3.50" fill="#E8792E" stroke="#333" stroke-width="0.9"/>
<line x1="519.55" x2="527.01" y1="360.30" y2="360.30" stroke="#333" stroke-width="1.8"/>
<circle cx="523.28" cy="353.30" r="1.95" fill="#333"/>
<line x1="531.50" x2="531.50" y1="346.10" y2="349.20" stroke="#333" stroke-width="1"/>
<line x1="531.50" x2="531.50" y1="352.60" y2="353.20" stroke="#333" stroke-width="1"/>
<rect x="527.91" y="349.20" width="7.45" height="3.40" fill="#A84CB0" stroke="#333" stroke-width="0.9"/>
<line x1="527.91" x2="535.36" y1="350.10" y2="350.10" stroke="#333" stroke-width="1.8"/>
<circle cx="531.63" cy="358.00" r="1.95" fill="#333"/>
<line x1="539.50" x2="539.50" y1="373.20" y2="373.40" stroke="#333" stroke-width="1"/>
<line x1="539.50" x2="539.50" y1="375.60" y2="375.80" stroke="#333" stroke-width="1"/>
<rect x="536.26" y="373.40" width="7.45" height="2.20" fill="#3C9A4A" stroke="#333" stroke-width="0.9"/>
<line x1="536.26" x2="543.71" y1="374.50" y2="374.50" stroke="#333" stroke-width="1.8"/>
<circle cx="539.98" cy="369.80" r="1.95" fill="#333"/>
<circle cx="539.98" cy="378.70" r="1.95" fill="#333"/>
<rect x="575.1" y="295.10" width="13.7" height="97.09" fill="#F2F2F2"/>
<line x1="582" x2="582" y1="296.43" y2="307.63" stroke="#333" stroke-width="0.9"/>
<rect x="576.9" y="298.43" width="10.3" height="7.2" fill="#D4A52A" stroke="#333" stroke-width="0.9"/>
<line x1="576.9" x2="587.2" y1="302.03" y2="302.03" stroke="#333" stroke-width="1.6"/>
<text x="595.3" y="305.94" font-size="10.45" fill="#000">PRSice-2(C+T)</text>
<line x1="582" x2="582" y1="310.30" y2="321.50" stroke="#333" stroke-width="0.9"/>
<rect x="576.9" y="312.30" width="10.3" height="7.2" fill="#3D8CC4" stroke="#333" stroke-width="0.9"/>
<line x1="576.9" x2="587.2" y1="315.90" y2="315.90" stroke="#333" stroke-width="1.6"/>
<text x="595.3" y="319.81" font-size="10.45" fill="#000">STGBLUP</text>
<line x1="582" x2="582" y1="324.17" y2="335.38" stroke="#333" stroke-width="0.9"/>
<rect x="576.9" y="326.17" width="10.3" height="7.2" fill="#F06464" stroke="#333" stroke-width="0.9"/>
<line x1="576.9" x2="587.2" y1="329.77" y2="329.77" stroke="#333" stroke-width="1.6"/>
<text x="595.3" y="333.68" font-size="10.45" fill="#000">wMT-BLUP</text>
<line x1="582" x2="582" y1="338.04" y2="349.25" stroke="#333" stroke-width="0.9"/>
<rect x="576.9" y="340.04" width="10.3" height="7.2" fill="#BE1E2D" stroke="#333" stroke-width="0.9"/>
<line x1="576.9" x2="587.2" y1="343.64" y2="343.64" stroke="#333" stroke-width="1.6"/>
<text x="595.3" y="347.55" font-size="10.45" fill="#000">MTGBLUP</text>
<line x1="582" x2="582" y1="351.91" y2="363.12" stroke="#333" stroke-width="0.9"/>
<rect x="576.9" y="353.91" width="10.3" height="7.2" fill="#E8792E" stroke="#333" stroke-width="0.9"/>
<line x1="576.9" x2="587.2" y1="357.51" y2="357.51" stroke="#333" stroke-width="1.6"/>
<text x="595.3" y="361.42" font-size="10.45" fill="#000">LGC-model-1(0.05)</text>
<line x1="582" x2="582" y1="365.78" y2="376.98" stroke="#333" stroke-width="0.9"/>
<rect x="576.9" y="367.78" width="10.3" height="7.2" fill="#A84CB0" stroke="#333" stroke-width="0.9"/>
<line x1="576.9" x2="587.2" y1="371.38" y2="371.38" stroke="#333" stroke-width="1.6"/>
<text x="595.3" y="375.28" font-size="10.45" fill="#000">LGC-model-2(0.6)</text>
<line x1="582" x2="582" y1="379.65" y2="390.85" stroke="#333" stroke-width="0.9"/>
<rect x="576.9" y="381.65" width="10.3" height="7.2" fill="#3C9A4A" stroke="#333" stroke-width="0.9"/>
<line x1="576.9" x2="587.2" y1="385.25" y2="385.25" stroke="#333" stroke-width="1.6"/>
<text x="595.3" y="389.15" font-size="10.45" fill="#000">LGC-model-3(0.05)</text>
<text x="2.3" y="482.10" font-size="19.8" font-weight="700" fill="#000">c</text>
<text transform="translate(10.0 574.05) rotate(-90)" text-anchor="middle" font-size="13.0" fill="#000">Prediction accuracy</text>
<rect x="37.20" y="465.80" width="172.10" height="16.5" fill="#D9D9D9"/>
<text x="123.25" y="477.80" text-anchor="middle" font-size="10.45" font-weight="700" fill="#1A1A1A">Human: HDL and LDL</text>
<rect x="37.50" y="482.30" width="171.50" height="181.70" fill="#fff" stroke="#DCDCDC" stroke-width="1"/>
<line x1="84.27" x2="84.27" y1="664.50" y2="666.80" stroke="#333" stroke-width="0.9"/>
<text x="84.27" y="675.90" text-anchor="middle" font-size="10.45" fill="#333333">HDL</text>
<line x1="162.23" x2="162.23" y1="664.50" y2="666.80" stroke="#333" stroke-width="0.9"/>
<text x="162.23" y="675.90" text-anchor="middle" font-size="10.45" fill="#333333">LDL</text>
<rect x="213.55" y="465.80" width="172.10" height="16.5" fill="#D9D9D9"/>
<text x="299.60" y="477.80" text-anchor="middle" font-size="10.45" font-weight="700" fill="#1A1A1A">Human: HDL and TG</text>
<rect x="213.85" y="482.30" width="171.50" height="181.70" fill="#fff" stroke="#DCDCDC" stroke-width="1"/>
<line x1="260.62" x2="260.62" y1="664.50" y2="666.80" stroke="#333" stroke-width="0.9"/>
<text x="260.62" y="675.90" text-anchor="middle" font-size="10.45" fill="#333333">HDL</text>
<line x1="338.58" x2="338.58" y1="664.50" y2="666.80" stroke="#333" stroke-width="0.9"/>
<text x="338.58" y="675.90" text-anchor="middle" font-size="10.45" fill="#333333">TG</text>
<rect x="389.90" y="465.80" width="172.10" height="16.5" fill="#D9D9D9"/>
<text x="475.95" y="477.80" text-anchor="middle" font-size="10.45" font-weight="700" fill="#1A1A1A">Human: LDL and TG</text>
<rect x="390.20" y="482.30" width="171.50" height="181.70" fill="#fff" stroke="#DCDCDC" stroke-width="1"/>
<line x1="436.97" x2="436.97" y1="664.50" y2="666.80" stroke="#333" stroke-width="0.9"/>
<text x="436.97" y="675.90" text-anchor="middle" font-size="10.45" fill="#333333">LDL</text>
<line x1="514.93" x2="514.93" y1="664.50" y2="666.80" stroke="#333" stroke-width="0.9"/>
<text x="514.93" y="675.90" text-anchor="middle" font-size="10.45" fill="#333333">TG</text>
<line x1="34.9" x2="37.4" y1="656.09" y2="656.09" stroke="#333" stroke-width="0.9"/>
<text x="33.3" y="660.09" text-anchor="end" font-size="10.45" fill="#333333">0.05</text>
<line x1="34.9" x2="37.4" y1="605.09" y2="605.09" stroke="#333" stroke-width="0.9"/>
<text x="33.3" y="609.09" text-anchor="end" font-size="10.45" fill="#333333">0.09</text>
<line x1="34.9" x2="37.4" y1="554.08" y2="554.08" stroke="#333" stroke-width="0.9"/>
<text x="33.3" y="558.08" text-anchor="end" font-size="10.45" fill="#333333">0.13</text>
<line x1="34.9" x2="37.4" y1="503.07" y2="503.07" stroke="#333" stroke-width="0.9"/>
<text x="33.3" y="507.07" text-anchor="end" font-size="10.45" fill="#333333">0.17</text>
<line x1="59.50" x2="59.50" y1="606.60" y2="606.90" stroke="#333" stroke-width="1"/>
<line x1="59.50" x2="59.50" y1="608.90" y2="610.40" stroke="#333" stroke-width="1"/>
<rect x="55.49" y="606.90" width="7.45" height="2.00" fill="#D4A52A" stroke="#333" stroke-width="0.9"/>
<line x1="55.49" x2="62.94" y1="607.90" y2="607.90" stroke="#333" stroke-width="1.8"/>
<circle cx="59.22" cy="616.00" r="1.95" fill="#333"/>
<line x1="67.50" x2="67.50" y1="600.50" y2="605.80" stroke="#333" stroke-width="1"/>
<line x1="67.50" x2="67.50" y1="610.90" y2="617.30" stroke="#333" stroke-width="1"/>
<rect x="63.84" y="605.80" width="7.45" height="5.10" fill="#3D8CC4" stroke="#333" stroke-width="0.9"/>
<line x1="63.84" x2="71.29" y1="610.10" y2="610.10" stroke="#333" stroke-width="1.8"/>
<line x1="75.50" x2="75.50" y1="600.50" y2="605.80" stroke="#333" stroke-width="1"/>
<line x1="75.50" x2="75.50" y1="610.10" y2="617.20" stroke="#333" stroke-width="1"/>
<rect x="72.19" y="605.80" width="7.45" height="4.30" fill="#F06464" stroke="#333" stroke-width="0.9"/>
<line x1="72.19" x2="79.65" y1="609.20" y2="609.20" stroke="#333" stroke-width="1.8"/>
<line x1="84.50" x2="84.50" y1="599.90" y2="605.00" stroke="#333" stroke-width="1"/>
<line x1="84.50" x2="84.50" y1="610.60" y2="616.40" stroke="#333" stroke-width="1"/>
<rect x="80.55" y="605.00" width="7.45" height="5.60" fill="#BE1E2D" stroke="#333" stroke-width="0.9"/>
<line x1="80.55" x2="88.00" y1="609.20" y2="609.20" stroke="#333" stroke-width="1.8"/>
<line x1="100.50" x2="100.50" y1="558.80" y2="562.80" stroke="#333" stroke-width="1"/>
<line x1="100.50" x2="100.50" y1="568.40" y2="571.40" stroke="#333" stroke-width="1"/>
<rect x="97.25" y="562.80" width="7.45" height="5.60" fill="#D98BC8" stroke="#333" stroke-width="0.9"/>
<line x1="97.25" x2="104.70" y1="565.20" y2="565.20" stroke="#333" stroke-width="1.8"/>
<line x1="137.50" x2="137.50" y1="625.00" y2="625.90" stroke="#333" stroke-width="1"/>
<line x1="137.50" x2="137.50" y1="631.20" y2="636.40" stroke="#333" stroke-width="1"/>
<rect x="133.44" y="625.90" width="7.45" height="5.30" fill="#D4A52A" stroke="#333" stroke-width="0.9"/>
<line x1="133.44" x2="140.90" y1="628.60" y2="628.60" stroke="#333" stroke-width="1.8"/>
<line x1="145.50" x2="145.50" y1="619.40" y2="626.30" stroke="#333" stroke-width="1"/>
<line x1="145.50" x2="145.50" y1="632.80" y2="635.40" stroke="#333" stroke-width="1"/>
<rect x="141.80" y="626.30" width="7.45" height="6.50" fill="#3D8CC4" stroke="#333" stroke-width="0.9"/>
<line x1="141.80" x2="149.25" y1="629.80" y2="629.80" stroke="#333" stroke-width="1.8"/>
<line x1="153.50" x2="153.50" y1="618.80" y2="625.30" stroke="#333" stroke-width="1"/>
<line x1="153.50" x2="153.50" y1="632.20" y2="635.20" stroke="#333" stroke-width="1"/>
<rect x="150.15" y="625.30" width="7.45" height="6.90" fill="#F06464" stroke="#333" stroke-width="0.9"/>
<line x1="150.15" x2="157.60" y1="629.60" y2="629.60" stroke="#333" stroke-width="1.8"/>
<line x1="162.50" x2="162.50" y1="618.40" y2="624.50" stroke="#333" stroke-width="1"/>
<line x1="162.50" x2="162.50" y1="632.20" y2="634.50" stroke="#333" stroke-width="1"/>
<rect x="158.50" y="624.50" width="7.45" height="7.70" fill="#BE1E2D" stroke="#333" stroke-width="0.9"/>
<line x1="158.50" x2="165.95" y1="629.40" y2="629.40" stroke="#333" stroke-width="1.8"/>
<line x1="178.50" x2="178.50" y1="604.80" y2="612.90" stroke="#333" stroke-width="1"/>
<line x1="178.50" x2="178.50" y1="621.40" y2="622.80" stroke="#333" stroke-width="1"/>
<rect x="175.21" y="612.90" width="7.45" height="8.50" fill="#D98BC8" stroke="#333" stroke-width="0.9"/>
<line x1="175.21" x2="182.66" y1="617.50" y2="617.50" stroke="#333" stroke-width="1.8"/>
<line x1="235.50" x2="235.50" y1="606.60" y2="606.90" stroke="#333" stroke-width="1"/>
<line x1="235.50" x2="235.50" y1="609.00" y2="610.60" stroke="#333" stroke-width="1"/>
<rect x="231.84" y="606.90" width="7.45" height="2.10" fill="#D4A52A" stroke="#333" stroke-width="0.9"/>
<line x1="231.84" x2="239.29" y1="608.00" y2="608.00" stroke="#333" stroke-width="1.8"/>
<circle cx="235.57" cy="616.00" r="1.95" fill="#333"/>
<line x1="243.50" x2="243.50" y1="600.60" y2="606.00" stroke="#333" stroke-width="1"/>
<line x1="243.50" x2="243.50" y1="610.90" y2="617.40" stroke="#333" stroke-width="1"/>
<rect x="240.19" y="606.00" width="7.45" height="4.90" fill="#3D8CC4" stroke="#333" stroke-width="0.9"/>
<line x1="240.19" x2="247.64" y1="610.30" y2="610.30" stroke="#333" stroke-width="1.8"/>
<line x1="252.50" x2="252.50" y1="600.80" y2="603.90" stroke="#333" stroke-width="1"/>
<line x1="252.50" x2="252.50" y1="610.20" y2="615.30" stroke="#333" stroke-width="1"/>
<rect x="248.54" y="603.90" width="7.45" height="6.30" fill="#F06464" stroke="#333" stroke-width="0.9"/>
<line x1="248.54" x2="256.00" y1="609.50" y2="609.50" stroke="#333" stroke-width="1.8"/>
<line x1="260.50" x2="260.50" y1="596.60" y2="601.00" stroke="#333" stroke-width="1"/>
<line x1="260.50" x2="260.50" y1="607.10" y2="612.50" stroke="#333" stroke-width="1"/>
<rect x="256.90" y="601.00" width="7.45" height="6.10" fill="#BE1E2D" stroke="#333" stroke-width="0.9"/>
<line x1="256.90" x2="264.35" y1="605.80" y2="605.80" stroke="#333" stroke-width="1.8"/>
<line x1="268.50" x2="268.50" y1="547.90" y2="554.20" stroke="#333" stroke-width="1"/>
<line x1="268.50" x2="268.50" y1="560.70" y2="565.20" stroke="#333" stroke-width="1"/>
<rect x="265.25" y="554.20" width="7.45" height="6.50" fill="#F4B97A" stroke="#333" stroke-width="0.9"/>
<line x1="265.25" x2="272.70" y1="557.90" y2="557.90" stroke="#333" stroke-width="1.8"/>
<line x1="277.50" x2="277.50" y1="536.30" y2="537.70" stroke="#333" stroke-width="1"/>
<line x1="277.50" x2="277.50" y1="544.00" y2="551.30" stroke="#333" stroke-width="1"/>
<rect x="273.60" y="537.70" width="7.45" height="6.30" fill="#D98BC8" stroke="#333" stroke-width="0.9"/>
<line x1="273.60" x2="281.05" y1="540.10" y2="540.10" stroke="#333" stroke-width="1.8"/>
<line x1="285.50" x2="285.50" y1="595.00" y2="598.40" stroke="#333" stroke-width="1"/>
<line x1="285.50" x2="285.50" y1="605.70" y2="608.50" stroke="#333" stroke-width="1"/>
<rect x="281.95" y="598.40" width="7.45" height="7.30" fill="#7DD67D" stroke="#333" stroke-width="0.9"/>
<line x1="281.95" x2="289.41" y1="601.30" y2="601.30" stroke="#333" stroke-width="1.8"/>
<circle cx="285.68" cy="587.30" r="1.95" fill="#333"/>
<line x1="313.50" x2="313.50" y1="598.70" y2="603.90" stroke="#333" stroke-width="1"/>
<line x1="313.50" x2="313.50" y1="610.30" y2="611.10" stroke="#333" stroke-width="1"/>
<rect x="309.79" y="603.90" width="7.45" height="6.40" fill="#D4A52A" stroke="#333" stroke-width="0.9"/>
<line x1="309.79" x2="317.25" y1="607.10" y2="607.10" stroke="#333" stroke-width="1.8"/>
<line x1="321.50" x2="321.50" y1="607.60" y2="607.80" stroke="#333" stroke-width="1"/>
<line x1="321.50" x2="321.50" y1="610.00" y2="612.30" stroke="#333" stroke-width="1"/>
<rect x="318.15" y="607.80" width="7.45" height="2.20" fill="#3D8CC4" stroke="#333" stroke-width="0.9"/>
<line x1="318.15" x2="325.60" y1="608.90" y2="608.90" stroke="#333" stroke-width="1.8"/>
<circle cx="321.87" cy="599.20" r="1.95" fill="#333"/>
<circle cx="321.87" cy="603.60" r="1.95" fill="#333"/>
<line x1="330.50" x2="330.50" y1="602.20" y2="605.70" stroke="#333" stroke-width="1"/>
<line x1="330.50" x2="330.50" y1="610.30" y2="611.10" stroke="#333" stroke-width="1"/>
<rect x="326.50" y="605.70" width="7.45" height="4.60" fill="#F06464" stroke="#333" stroke-width="0.9"/>
<line x1="326.50" x2="333.95" y1="608.00" y2="608.00" stroke="#333" stroke-width="1.8"/>
<line x1="338.50" x2="338.50" y1="600.80" y2="602.70" stroke="#333" stroke-width="1"/>
<line x1="338.50" x2="338.50" y1="606.40" y2="608.00" stroke="#333" stroke-width="1"/>
<rect x="334.85" y="602.70" width="7.45" height="3.70" fill="#BE1E2D" stroke="#333" stroke-width="0.9"/>
<line x1="334.85" x2="342.30" y1="604.60" y2="604.60" stroke="#333" stroke-width="1.8"/>
<circle cx="338.58" cy="596.90" r="1.95" fill="#333"/>
<line x1="346.50" x2="346.50" y1="540.30" y2="541.00" stroke="#333" stroke-width="1"/>
<line x1="346.50" x2="346.50" y1="547.00" y2="547.60" stroke="#333" stroke-width="1"/>
<rect x="343.20" y="541.00" width="7.45" height="6.00" fill="#F4B97A" stroke="#333" stroke-width="0.9"/>
<line x1="343.20" x2="350.66" y1="544.50" y2="544.50" stroke="#333" stroke-width="1.8"/>
<line x1="355.50" x2="355.50" y1="537.60" y2="539.90" stroke="#333" stroke-width="1"/>
<line x1="355.50" x2="355.50" y1="544.60" y2="546.50" stroke="#333" stroke-width="1"/>
<rect x="351.56" y="539.90" width="7.45" height="4.70" fill="#D98BC8" stroke="#333" stroke-width="0.9"/>
<line x1="351.56" x2="359.01" y1="542.00" y2="542.00" stroke="#333" stroke-width="1.8"/>
<line x1="363.50" x2="363.50" y1="592.90" y2="598.20" stroke="#333" stroke-width="1"/>
<line x1="363.50" x2="363.50" y1="603.50" y2="608.00" stroke="#333" stroke-width="1"/>
<rect x="359.91" y="598.20" width="7.45" height="5.30" fill="#7DD67D" stroke="#333" stroke-width="0.9"/>
<line x1="359.91" x2="367.36" y1="601.00" y2="601.00" stroke="#333" stroke-width="1.8"/>
<line x1="411.50" x2="411.50" y1="625.00" y2="625.90" stroke="#333" stroke-width="1"/>
<line x1="411.50" x2="411.50" y1="631.00" y2="636.40" stroke="#333" stroke-width="1"/>
<rect x="408.19" y="625.90" width="7.45" height="5.10" fill="#D4A52A" stroke="#333" stroke-width="0.9"/>
<line x1="408.19" x2="415.64" y1="628.40" y2="628.40" stroke="#333" stroke-width="1.8"/>
<line x1="420.50" x2="420.50" y1="619.40" y2="626.30" stroke="#333" stroke-width="1"/>
<line x1="420.50" x2="420.50" y1="632.80" y2="635.40" stroke="#333" stroke-width="1"/>
<rect x="416.54" y="626.30" width="7.45" height="6.50" fill="#3D8CC4" stroke="#333" stroke-width="0.9"/>
<line x1="416.54" x2="423.99" y1="630.00" y2="630.00" stroke="#333" stroke-width="1.8"/>
<line x1="428.50" x2="428.50" y1="620.70" y2="625.90" stroke="#333" stroke-width="1"/>
<line x1="428.50" x2="428.50" y1="632.20" y2="636.60" stroke="#333" stroke-width="1"/>
<rect x="424.89" y="625.90" width="7.45" height="6.30" fill="#F06464" stroke="#333" stroke-width="0.9"/>
<line x1="424.89" x2="432.35" y1="629.10" y2="629.10" stroke="#333" stroke-width="1.8"/>
<line x1="436.50" x2="436.50" y1="617.90" y2="624.00" stroke="#333" stroke-width="1"/>
<line x1="436.50" x2="436.50" y1="631.20" y2="634.50" stroke="#333" stroke-width="1"/>
<rect x="433.25" y="624.00" width="7.45" height="7.20" fill="#BE1E2D" stroke="#333" stroke-width="0.9"/>
<line x1="433.25" x2="440.70" y1="628.70" y2="628.70" stroke="#333" stroke-width="1.8"/>
<line x1="445.50" x2="445.50" y1="603.40" y2="610.30" stroke="#333" stroke-width="1"/>
<line x1="445.50" x2="445.50" y1="615.60" y2="620.50" stroke="#333" stroke-width="1"/>
<rect x="441.60" y="610.30" width="7.45" height="5.30" fill="#F4B97A" stroke="#333" stroke-width="0.9"/>
<line x1="441.60" x2="449.05" y1="612.10" y2="612.10" stroke="#333" stroke-width="1.8"/>
<circle cx="445.32" cy="601.90" r="1.95" fill="#333"/>
<line x1="453.50" x2="453.50" y1="565.40" y2="571.80" stroke="#333" stroke-width="1"/>
<line x1="453.50" x2="453.50" y1="576.60" y2="581.80" stroke="#333" stroke-width="1"/>
<rect x="449.95" y="571.80" width="7.45" height="4.80" fill="#D98BC8" stroke="#333" stroke-width="0.9"/>
<line x1="449.95" x2="457.40" y1="574.30" y2="574.30" stroke="#333" stroke-width="1.8"/>
<circle cx="453.68" cy="583.70" r="1.95" fill="#333"/>
<line x1="462.50" x2="462.50" y1="624.30" y2="626.20" stroke="#333" stroke-width="1"/>
<line x1="462.50" x2="462.50" y1="631.80" y2="639.00" stroke="#333" stroke-width="1"/>
<rect x="458.30" y="626.20" width="7.45" height="5.60" fill="#7DD67D" stroke="#333" stroke-width="0.9"/>
<line x1="458.30" x2="465.76" y1="628.00" y2="628.00" stroke="#333" stroke-width="1.8"/>
<line x1="489.50" x2="489.50" y1="598.70" y2="604.00" stroke="#333" stroke-width="1"/>
<line x1="489.50" x2="489.50" y1="610.20" y2="610.80" stroke="#333" stroke-width="1"/>
<rect x="486.14" y="604.00" width="7.45" height="6.20" fill="#D4A52A" stroke="#333" stroke-width="0.9"/>
<line x1="486.14" x2="493.60" y1="607.10" y2="607.10" stroke="#333" stroke-width="1.8"/>
<line x1="498.50" x2="498.50" y1="607.60" y2="607.80" stroke="#333" stroke-width="1"/>
<line x1="498.50" x2="498.50" y1="610.00" y2="612.20" stroke="#333" stroke-width="1"/>
<rect x="494.50" y="607.80" width="7.45" height="2.20" fill="#3D8CC4" stroke="#333" stroke-width="0.9"/>
<line x1="494.50" x2="501.95" y1="608.90" y2="608.90" stroke="#333" stroke-width="1.8"/>
<circle cx="498.22" cy="599.40" r="1.95" fill="#333"/>
<circle cx="498.22" cy="603.70" r="1.95" fill="#333"/>
<line x1="506.50" x2="506.50" y1="608.90" y2="609.10" stroke="#333" stroke-width="1"/>
<line x1="506.50" x2="506.50" y1="611.10" y2="613.00" stroke="#333" stroke-width="1"/>
<rect x="502.85" y="609.10" width="7.45" height="2.00" fill="#F06464" stroke="#333" stroke-width="0.9"/>
<line x1="502.85" x2="510.30" y1="610.10" y2="610.10" stroke="#333" stroke-width="1.8"/>
<circle cx="506.57" cy="599.20" r="1.95" fill="#333"/>
<circle cx="506.57" cy="606.00" r="1.95" fill="#333"/>
<line x1="514.50" x2="514.50" y1="606.70" y2="606.90" stroke="#333" stroke-width="1"/>
<line x1="514.50" x2="514.50" y1="609.20" y2="611.30" stroke="#333" stroke-width="1"/>
<rect x="511.20" y="606.90" width="7.45" height="2.30" fill="#BE1E2D" stroke="#333" stroke-width="0.9"/>
<line x1="511.20" x2="518.65" y1="608.00" y2="608.00" stroke="#333" stroke-width="1.8"/>
<circle cx="514.93" cy="597.80" r="1.95" fill="#333"/>
<circle cx="514.93" cy="603.20" r="1.95" fill="#333"/>
<line x1="523.50" x2="523.50" y1="592.00" y2="592.20" stroke="#333" stroke-width="1"/>
<line x1="523.50" x2="523.50" y1="593.40" y2="594.00" stroke="#333" stroke-width="1"/>
<rect x="519.55" y="592.20" width="7.45" height="1.20" fill="#F4B97A" stroke="#333" stroke-width="0.9"/>
<line x1="519.55" x2="527.01" y1="592.80" y2="592.80" stroke="#333" stroke-width="1.8"/>
<circle cx="523.28" cy="584.30" r="1.95" fill="#333"/>
<circle cx="523.28" cy="588.20" r="1.95" fill="#333"/>
<circle cx="523.28" cy="595.00" r="1.95" fill="#333"/>
<circle cx="523.28" cy="596.50" r="1.95" fill="#333"/>
<circle cx="523.28" cy="597.50" r="1.95" fill="#333"/>
<line x1="531.50" x2="531.50" y1="571.60" y2="574.40" stroke="#333" stroke-width="1"/>
<line x1="531.50" x2="531.50" y1="579.10" y2="582.20" stroke="#333" stroke-width="1"/>
<rect x="527.91" y="574.40" width="7.45" height="4.70" fill="#D98BC8" stroke="#333" stroke-width="0.9"/>
<line x1="527.91" x2="535.36" y1="575.70" y2="575.70" stroke="#333" stroke-width="1.8"/>
<line x1="539.50" x2="539.50" y1="600.00" y2="603.30" stroke="#333" stroke-width="1"/>
<line x1="539.50" x2="539.50" y1="611.00" y2="614.30" stroke="#333" stroke-width="1"/>
<rect x="536.26" y="603.30" width="7.45" height="7.70" fill="#7DD67D" stroke="#333" stroke-width="0.9"/>
<line x1="536.26" x2="543.71" y1="606.90" y2="606.90" stroke="#333" stroke-width="1.8"/>
<rect x="575.1" y="528.00" width="13.7" height="97.09" fill="#F2F2F2"/>
<line x1="582" x2="582" y1="529.33" y2="540.53" stroke="#333" stroke-width="0.9"/>
<rect x="576.9" y="531.33" width="10.3" height="7.2" fill="#D4A52A" stroke="#333" stroke-width="0.9"/>
<line x1="576.9" x2="587.2" y1="534.93" y2="534.93" stroke="#333" stroke-width="1.6"/>
<text x="595.3" y="538.53" font-size="10.45" fill="#000">PRSice-2(C+T)</text>
<line x1="582" x2="582" y1="543.20" y2="554.40" stroke="#333" stroke-width="0.9"/>
<rect x="576.9" y="545.20" width="10.3" height="7.2" fill="#3D8CC4" stroke="#333" stroke-width="0.9"/>
<line x1="576.9" x2="587.2" y1="548.80" y2="548.80" stroke="#333" stroke-width="1.6"/>
<text x="595.3" y="552.40" font-size="10.45" fill="#000">STGBLUP</text>
<line x1="582" x2="582" y1="557.07" y2="568.27" stroke="#333" stroke-width="0.9"/>
<rect x="576.9" y="559.07" width="10.3" height="7.2" fill="#F06464" stroke="#333" stroke-width="0.9"/>
<line x1="576.9" x2="587.2" y1="562.67" y2="562.67" stroke="#333" stroke-width="1.6"/>
<text x="595.3" y="566.27" font-size="10.45" fill="#000">wMT-BLUP</text>
<line x1="582" x2="582" y1="570.94" y2="582.14" stroke="#333" stroke-width="0.9"/>
<rect x="576.9" y="572.94" width="10.3" height="7.2" fill="#BE1E2D" stroke="#333" stroke-width="0.9"/>
<line x1="576.9" x2="587.2" y1="576.54" y2="576.54" stroke="#333" stroke-width="1.6"/>
<text x="595.3" y="580.14" font-size="10.45" fill="#000">MTGBLUP</text>
<line x1="582" x2="582" y1="584.81" y2="596.01" stroke="#333" stroke-width="0.9"/>
<rect x="576.9" y="586.81" width="10.3" height="7.2" fill="#F4B97A" stroke="#333" stroke-width="0.9"/>
<line x1="576.9" x2="587.2" y1="590.41" y2="590.41" stroke="#333" stroke-width="1.6"/>
<text x="595.3" y="594.01" font-size="10.45" fill="#000">LGC-model-1(0.01)</text>
<line x1="582" x2="582" y1="598.68" y2="609.88" stroke="#333" stroke-width="0.9"/>
<rect x="576.9" y="600.68" width="10.3" height="7.2" fill="#D98BC8" stroke="#333" stroke-width="0.9"/>
<line x1="576.9" x2="587.2" y1="604.28" y2="604.28" stroke="#333" stroke-width="1.6"/>
<text x="595.3" y="607.88" font-size="10.45" fill="#000">LGC-model-2(0.5)</text>
<line x1="582" x2="582" y1="612.55" y2="623.75" stroke="#333" stroke-width="0.9"/>
<rect x="576.9" y="614.55" width="10.3" height="7.2" fill="#7DD67D" stroke="#333" stroke-width="0.9"/>
<line x1="576.9" x2="587.2" y1="618.15" y2="618.15" stroke="#333" stroke-width="1.6"/>
<text x="595.3" y="621.75" font-size="10.45" fill="#000">LGC-model-3(0.01)</text>
<text x="2.3" y="714.50" font-size="19.8" font-weight="700" fill="#000">d</text>
<text transform="translate(10.0 806.45) rotate(-90)" text-anchor="middle" font-size="13.0" fill="#000">Prediction accuracy</text>
<rect x="37.20" y="698.20" width="172.10" height="16.5" fill="#D9D9D9"/>
<text x="123.25" y="710.20" text-anchor="middle" font-size="10.45" font-weight="700" fill="#1A1A1A">Human: HDL and LDL</text>
<rect x="37.50" y="714.70" width="171.50" height="181.70" fill="#fff" stroke="#DCDCDC" stroke-width="1"/>
<line x1="84.27" x2="84.27" y1="896.90" y2="899.20" stroke="#333" stroke-width="0.9"/>
<text x="84.27" y="908.30" text-anchor="middle" font-size="10.45" fill="#333333">HDL</text>
<line x1="162.23" x2="162.23" y1="896.90" y2="899.20" stroke="#333" stroke-width="0.9"/>
<text x="162.23" y="908.30" text-anchor="middle" font-size="10.45" fill="#333333">LDL</text>
<rect x="213.55" y="698.20" width="172.10" height="16.5" fill="#D9D9D9"/>
<text x="299.60" y="710.20" text-anchor="middle" font-size="10.45" font-weight="700" fill="#1A1A1A">Human: HDL and TG</text>
<rect x="213.85" y="714.70" width="171.50" height="181.70" fill="#fff" stroke="#DCDCDC" stroke-width="1"/>
<line x1="260.62" x2="260.62" y1="896.90" y2="899.20" stroke="#333" stroke-width="0.9"/>
<text x="260.62" y="908.30" text-anchor="middle" font-size="10.45" fill="#333333">HDL</text>
<line x1="338.58" x2="338.58" y1="896.90" y2="899.20" stroke="#333" stroke-width="0.9"/>
<text x="338.58" y="908.30" text-anchor="middle" font-size="10.45" fill="#333333">TG</text>
<rect x="389.90" y="698.20" width="172.10" height="16.5" fill="#D9D9D9"/>
<text x="475.95" y="710.20" text-anchor="middle" font-size="10.45" font-weight="700" fill="#1A1A1A">Human: LDL and TG</text>
<rect x="390.20" y="714.70" width="171.50" height="181.70" fill="#fff" stroke="#DCDCDC" stroke-width="1"/>
<line x1="436.97" x2="436.97" y1="896.90" y2="899.20" stroke="#333" stroke-width="0.9"/>
<text x="436.97" y="908.30" text-anchor="middle" font-size="10.45" fill="#333333">LDL</text>
<line x1="514.93" x2="514.93" y1="896.90" y2="899.20" stroke="#333" stroke-width="0.9"/>
<text x="514.93" y="908.30" text-anchor="middle" font-size="10.45" fill="#333333">TG</text>
<line x1="34.9" x2="37.4" y1="888.49" y2="888.49" stroke="#333" stroke-width="0.9"/>
<text x="33.3" y="892.49" text-anchor="end" font-size="10.45" fill="#333333">0.05</text>
<line x1="34.9" x2="37.4" y1="837.49" y2="837.49" stroke="#333" stroke-width="0.9"/>
<text x="33.3" y="841.49" text-anchor="end" font-size="10.45" fill="#333333">0.09</text>
<line x1="34.9" x2="37.4" y1="786.48" y2="786.48" stroke="#333" stroke-width="0.9"/>
<text x="33.3" y="790.48" text-anchor="end" font-size="10.45" fill="#333333">0.13</text>
<line x1="34.9" x2="37.4" y1="735.47" y2="735.47" stroke="#333" stroke-width="0.9"/>
<text x="33.3" y="739.47" text-anchor="end" font-size="10.45" fill="#333333">0.17</text>
<line x1="59.50" x2="59.50" y1="839.00" y2="839.30" stroke="#333" stroke-width="1"/>
<line x1="59.50" x2="59.50" y1="841.30" y2="842.80" stroke="#333" stroke-width="1"/>
<rect x="55.49" y="839.30" width="7.45" height="2.00" fill="#D4A52A" stroke="#333" stroke-width="0.9"/>
<line x1="55.49" x2="62.94" y1="840.30" y2="840.30" stroke="#333" stroke-width="1.8"/>
<circle cx="59.22" cy="848.40" r="1.95" fill="#333"/>
<line x1="67.50" x2="67.50" y1="832.90" y2="838.20" stroke="#333" stroke-width="1"/>
<line x1="67.50" x2="67.50" y1="843.30" y2="849.70" stroke="#333" stroke-width="1"/>
<rect x="63.84" y="838.20" width="7.45" height="5.10" fill="#3D8CC4" stroke="#333" stroke-width="0.9"/>
<line x1="63.84" x2="71.29" y1="842.50" y2="842.50" stroke="#333" stroke-width="1.8"/>
<line x1="75.50" x2="75.50" y1="832.90" y2="838.20" stroke="#333" stroke-width="1"/>
<line x1="75.50" x2="75.50" y1="842.50" y2="849.60" stroke="#333" stroke-width="1"/>
<rect x="72.19" y="838.20" width="7.45" height="4.30" fill="#F06464" stroke="#333" stroke-width="0.9"/>
<line x1="72.19" x2="79.65" y1="841.60" y2="841.60" stroke="#333" stroke-width="1.8"/>
<line x1="84.50" x2="84.50" y1="832.30" y2="837.40" stroke="#333" stroke-width="1"/>
<line x1="84.50" x2="84.50" y1="843.00" y2="848.80" stroke="#333" stroke-width="1"/>
<rect x="80.55" y="837.40" width="7.45" height="5.60" fill="#BE1E2D" stroke="#333" stroke-width="0.9"/>
<line x1="80.55" x2="88.00" y1="841.60" y2="841.60" stroke="#333" stroke-width="1.8"/>
<line x1="100.50" x2="100.50" y1="803.20" y2="806.20" stroke="#333" stroke-width="1"/>
<line x1="100.50" x2="100.50" y1="811.80" y2="814.60" stroke="#333" stroke-width="1"/>
<rect x="97.25" y="806.20" width="7.45" height="5.60" fill="#A84CB0" stroke="#333" stroke-width="0.9"/>
<line x1="97.25" x2="104.70" y1="808.10" y2="808.10" stroke="#333" stroke-width="1.8"/>
<line x1="137.50" x2="137.50" y1="857.40" y2="858.30" stroke="#333" stroke-width="1"/>
<line x1="137.50" x2="137.50" y1="863.60" y2="868.80" stroke="#333" stroke-width="1"/>
<rect x="133.44" y="858.30" width="7.45" height="5.30" fill="#D4A52A" stroke="#333" stroke-width="0.9"/>
<line x1="133.44" x2="140.90" y1="861.00" y2="861.00" stroke="#333" stroke-width="1.8"/>
<line x1="145.50" x2="145.50" y1="851.80" y2="858.70" stroke="#333" stroke-width="1"/>
<line x1="145.50" x2="145.50" y1="865.20" y2="867.80" stroke="#333" stroke-width="1"/>
<rect x="141.80" y="858.70" width="7.45" height="6.50" fill="#3D8CC4" stroke="#333" stroke-width="0.9"/>
<line x1="141.80" x2="149.25" y1="862.20" y2="862.20" stroke="#333" stroke-width="1.8"/>
<line x1="153.50" x2="153.50" y1="851.20" y2="857.70" stroke="#333" stroke-width="1"/>
<line x1="153.50" x2="153.50" y1="864.60" y2="867.60" stroke="#333" stroke-width="1"/>
<rect x="150.15" y="857.70" width="7.45" height="6.90" fill="#F06464" stroke="#333" stroke-width="0.9"/>
<line x1="150.15" x2="157.60" y1="862.00" y2="862.00" stroke="#333" stroke-width="1.8"/>
<line x1="162.50" x2="162.50" y1="850.80" y2="856.90" stroke="#333" stroke-width="1"/>
<line x1="162.50" x2="162.50" y1="864.60" y2="866.90" stroke="#333" stroke-width="1"/>
<rect x="158.50" y="856.90" width="7.45" height="7.70" fill="#BE1E2D" stroke="#333" stroke-width="0.9"/>
<line x1="158.50" x2="165.95" y1="861.80" y2="861.80" stroke="#333" stroke-width="1.8"/>
<line x1="178.50" x2="178.50" y1="840.10" y2="848.10" stroke="#333" stroke-width="1"/>
<line x1="178.50" x2="178.50" y1="857.40" y2="860.00" stroke="#333" stroke-width="1"/>
<rect x="175.21" y="848.10" width="7.45" height="9.30" fill="#A84CB0" stroke="#333" stroke-width="0.9"/>
<line x1="175.21" x2="182.66" y1="854.60" y2="854.60" stroke="#333" stroke-width="1.8"/>
<line x1="235.50" x2="235.50" y1="839.00" y2="839.30" stroke="#333" stroke-width="1"/>
<line x1="235.50" x2="235.50" y1="841.40" y2="843.00" stroke="#333" stroke-width="1"/>
<rect x="231.84" y="839.30" width="7.45" height="2.10" fill="#D4A52A" stroke="#333" stroke-width="0.9"/>
<line x1="231.84" x2="239.29" y1="840.40" y2="840.40" stroke="#333" stroke-width="1.8"/>
<circle cx="235.57" cy="848.40" r="1.95" fill="#333"/>
<line x1="243.50" x2="243.50" y1="833.00" y2="838.40" stroke="#333" stroke-width="1"/>
<line x1="243.50" x2="243.50" y1="843.30" y2="849.80" stroke="#333" stroke-width="1"/>
<rect x="240.19" y="838.40" width="7.45" height="4.90" fill="#3D8CC4" stroke="#333" stroke-width="0.9"/>
<line x1="240.19" x2="247.64" y1="842.70" y2="842.70" stroke="#333" stroke-width="1.8"/>
<line x1="252.50" x2="252.50" y1="833.20" y2="836.30" stroke="#333" stroke-width="1"/>
<line x1="252.50" x2="252.50" y1="842.60" y2="847.70" stroke="#333" stroke-width="1"/>
<rect x="248.54" y="836.30" width="7.45" height="6.30" fill="#F06464" stroke="#333" stroke-width="0.9"/>
<line x1="248.54" x2="256.00" y1="841.90" y2="841.90" stroke="#333" stroke-width="1.8"/>
<line x1="260.50" x2="260.50" y1="829.00" y2="833.40" stroke="#333" stroke-width="1"/>
<line x1="260.50" x2="260.50" y1="839.50" y2="844.90" stroke="#333" stroke-width="1"/>
<rect x="256.90" y="833.40" width="7.45" height="6.10" fill="#BE1E2D" stroke="#333" stroke-width="0.9"/>
<line x1="256.90" x2="264.35" y1="838.20" y2="838.20" stroke="#333" stroke-width="1.8"/>
<line x1="268.50" x2="268.50" y1="780.30" y2="786.60" stroke="#333" stroke-width="1"/>
<line x1="268.50" x2="268.50" y1="793.10" y2="797.60" stroke="#333" stroke-width="1"/>
<rect x="265.25" y="786.60" width="7.45" height="6.50" fill="#F4B97A" stroke="#333" stroke-width="0.9"/>
<line x1="265.25" x2="272.70" y1="790.30" y2="790.30" stroke="#333" stroke-width="1.8"/>
<line x1="277.50" x2="277.50" y1="763.00" y2="768.10" stroke="#333" stroke-width="1"/>
<line x1="277.50" x2="277.50" y1="775.10" y2="777.60" stroke="#333" stroke-width="1"/>
<rect x="273.60" y="768.10" width="7.45" height="7.00" fill="#A84CB0" stroke="#333" stroke-width="0.9"/>
<line x1="273.60" x2="281.05" y1="770.70" y2="770.70" stroke="#333" stroke-width="1.8"/>
<line x1="285.50" x2="285.50" y1="827.40" y2="830.80" stroke="#333" stroke-width="1"/>
<line x1="285.50" x2="285.50" y1="838.10" y2="840.90" stroke="#333" stroke-width="1"/>
<rect x="281.95" y="830.80" width="7.45" height="7.30" fill="#7DD67D" stroke="#333" stroke-width="0.9"/>
<line x1="281.95" x2="289.41" y1="833.70" y2="833.70" stroke="#333" stroke-width="1.8"/>
<circle cx="285.68" cy="819.70" r="1.95" fill="#333"/>
<line x1="313.50" x2="313.50" y1="831.10" y2="836.30" stroke="#333" stroke-width="1"/>
<line x1="313.50" x2="313.50" y1="842.70" y2="843.50" stroke="#333" stroke-width="1"/>
<rect x="309.79" y="836.30" width="7.45" height="6.40" fill="#D4A52A" stroke="#333" stroke-width="0.9"/>
<line x1="309.79" x2="317.25" y1="839.50" y2="839.50" stroke="#333" stroke-width="1.8"/>
<line x1="321.50" x2="321.50" y1="840.00" y2="840.20" stroke="#333" stroke-width="1"/>
<line x1="321.50" x2="321.50" y1="842.40" y2="844.70" stroke="#333" stroke-width="1"/>
<rect x="318.15" y="840.20" width="7.45" height="2.20" fill="#3D8CC4" stroke="#333" stroke-width="0.9"/>
<line x1="318.15" x2="325.60" y1="841.30" y2="841.30" stroke="#333" stroke-width="1.8"/>
<circle cx="321.87" cy="831.60" r="1.95" fill="#333"/>
<circle cx="321.87" cy="836.00" r="1.95" fill="#333"/>
<line x1="330.50" x2="330.50" y1="834.60" y2="838.10" stroke="#333" stroke-width="1"/>
<line x1="330.50" x2="330.50" y1="842.70" y2="843.50" stroke="#333" stroke-width="1"/>
<rect x="326.50" y="838.10" width="7.45" height="4.60" fill="#F06464" stroke="#333" stroke-width="0.9"/>
<line x1="326.50" x2="333.95" y1="840.40" y2="840.40" stroke="#333" stroke-width="1.8"/>
<line x1="338.50" x2="338.50" y1="833.20" y2="835.10" stroke="#333" stroke-width="1"/>
<line x1="338.50" x2="338.50" y1="838.80" y2="840.40" stroke="#333" stroke-width="1"/>
<rect x="334.85" y="835.10" width="7.45" height="3.70" fill="#BE1E2D" stroke="#333" stroke-width="0.9"/>
<line x1="334.85" x2="342.30" y1="837.00" y2="837.00" stroke="#333" stroke-width="1.8"/>
<circle cx="338.58" cy="829.30" r="1.95" fill="#333"/>
<line x1="346.50" x2="346.50" y1="772.70" y2="773.40" stroke="#333" stroke-width="1"/>
<line x1="346.50" x2="346.50" y1="779.40" y2="780.00" stroke="#333" stroke-width="1"/>
<rect x="343.20" y="773.40" width="7.45" height="6.00" fill="#F4B97A" stroke="#333" stroke-width="0.9"/>
<line x1="343.20" x2="350.66" y1="776.90" y2="776.90" stroke="#333" stroke-width="1.8"/>
<line x1="355.50" x2="355.50" y1="774.10" y2="776.10" stroke="#333" stroke-width="1"/>
<line x1="355.50" x2="355.50" y1="782.70" y2="784.80" stroke="#333" stroke-width="1"/>
<rect x="351.56" y="776.10" width="7.45" height="6.60" fill="#A84CB0" stroke="#333" stroke-width="0.9"/>
<line x1="351.56" x2="359.01" y1="780.20" y2="780.20" stroke="#333" stroke-width="1.8"/>
<line x1="363.50" x2="363.50" y1="825.30" y2="830.60" stroke="#333" stroke-width="1"/>
<line x1="363.50" x2="363.50" y1="835.90" y2="840.40" stroke="#333" stroke-width="1"/>
<rect x="359.91" y="830.60" width="7.45" height="5.30" fill="#7DD67D" stroke="#333" stroke-width="0.9"/>
<line x1="359.91" x2="367.36" y1="833.40" y2="833.40" stroke="#333" stroke-width="1.8"/>
<line x1="411.50" x2="411.50" y1="857.40" y2="858.30" stroke="#333" stroke-width="1"/>
<line x1="411.50" x2="411.50" y1="863.40" y2="868.80" stroke="#333" stroke-width="1"/>
<rect x="408.19" y="858.30" width="7.45" height="5.10" fill="#D4A52A" stroke="#333" stroke-width="0.9"/>
<line x1="408.19" x2="415.64" y1="860.80" y2="860.80" stroke="#333" stroke-width="1.8"/>
<line x1="420.50" x2="420.50" y1="851.80" y2="858.70" stroke="#333" stroke-width="1"/>
<line x1="420.50" x2="420.50" y1="865.20" y2="867.80" stroke="#333" stroke-width="1"/>
<rect x="416.54" y="858.70" width="7.45" height="6.50" fill="#3D8CC4" stroke="#333" stroke-width="0.9"/>
<line x1="416.54" x2="423.99" y1="862.40" y2="862.40" stroke="#333" stroke-width="1.8"/>
<line x1="428.50" x2="428.50" y1="853.10" y2="858.30" stroke="#333" stroke-width="1"/>
<line x1="428.50" x2="428.50" y1="864.60" y2="869.00" stroke="#333" stroke-width="1"/>
<rect x="424.89" y="858.30" width="7.45" height="6.30" fill="#F06464" stroke="#333" stroke-width="0.9"/>
<line x1="424.89" x2="432.35" y1="861.50" y2="861.50" stroke="#333" stroke-width="1.8"/>
<line x1="436.50" x2="436.50" y1="850.30" y2="856.40" stroke="#333" stroke-width="1"/>
<line x1="436.50" x2="436.50" y1="863.60" y2="866.90" stroke="#333" stroke-width="1"/>
<rect x="433.25" y="856.40" width="7.45" height="7.20" fill="#BE1E2D" stroke="#333" stroke-width="0.9"/>
<line x1="433.25" x2="440.70" y1="861.10" y2="861.10" stroke="#333" stroke-width="1.8"/>
<line x1="445.50" x2="445.50" y1="835.80" y2="842.70" stroke="#333" stroke-width="1"/>
<line x1="445.50" x2="445.50" y1="848.00" y2="852.90" stroke="#333" stroke-width="1"/>
<rect x="441.60" y="842.70" width="7.45" height="5.30" fill="#F4B97A" stroke="#333" stroke-width="0.9"/>
<line x1="441.60" x2="449.05" y1="844.50" y2="844.50" stroke="#333" stroke-width="1.8"/>
<circle cx="445.32" cy="834.30" r="1.95" fill="#333"/>
<line x1="453.50" x2="453.50" y1="802.80" y2="807.20" stroke="#333" stroke-width="1"/>
<line x1="453.50" x2="453.50" y1="812.80" y2="817.80" stroke="#333" stroke-width="1"/>
<rect x="449.95" y="807.20" width="7.45" height="5.60" fill="#A84CB0" stroke="#333" stroke-width="0.9"/>
<line x1="449.95" x2="457.40" y1="809.80" y2="809.80" stroke="#333" stroke-width="1.8"/>
<line x1="462.50" x2="462.50" y1="856.70" y2="858.60" stroke="#333" stroke-width="1"/>
<line x1="462.50" x2="462.50" y1="864.20" y2="871.40" stroke="#333" stroke-width="1"/>
<rect x="458.30" y="858.60" width="7.45" height="5.60" fill="#7DD67D" stroke="#333" stroke-width="0.9"/>
<line x1="458.30" x2="465.76" y1="860.40" y2="860.40" stroke="#333" stroke-width="1.8"/>
<line x1="489.50" x2="489.50" y1="831.10" y2="836.40" stroke="#333" stroke-width="1"/>
<line x1="489.50" x2="489.50" y1="842.60" y2="843.20" stroke="#333" stroke-width="1"/>
<rect x="486.14" y="836.40" width="7.45" height="6.20" fill="#D4A52A" stroke="#333" stroke-width="0.9"/>
<line x1="486.14" x2="493.60" y1="839.50" y2="839.50" stroke="#333" stroke-width="1.8"/>
<line x1="498.50" x2="498.50" y1="840.00" y2="840.20" stroke="#333" stroke-width="1"/>
<line x1="498.50" x2="498.50" y1="842.40" y2="844.60" stroke="#333" stroke-width="1"/>
<rect x="494.50" y="840.20" width="7.45" height="2.20" fill="#3D8CC4" stroke="#333" stroke-width="0.9"/>
<line x1="494.50" x2="501.95" y1="841.30" y2="841.30" stroke="#333" stroke-width="1.8"/>
<circle cx="498.22" cy="831.80" r="1.95" fill="#333"/>
<circle cx="498.22" cy="836.10" r="1.95" fill="#333"/>
<line x1="506.50" x2="506.50" y1="841.30" y2="841.50" stroke="#333" stroke-width="1"/>
<line x1="506.50" x2="506.50" y1="843.50" y2="845.40" stroke="#333" stroke-width="1"/>
<rect x="502.85" y="841.50" width="7.45" height="2.00" fill="#F06464" stroke="#333" stroke-width="0.9"/>
<line x1="502.85" x2="510.30" y1="842.50" y2="842.50" stroke="#333" stroke-width="1.8"/>
<circle cx="506.57" cy="831.60" r="1.95" fill="#333"/>
<circle cx="506.57" cy="838.40" r="1.95" fill="#333"/>
<line x1="514.50" x2="514.50" y1="839.10" y2="839.30" stroke="#333" stroke-width="1"/>
<line x1="514.50" x2="514.50" y1="841.60" y2="843.70" stroke="#333" stroke-width="1"/>
<rect x="511.20" y="839.30" width="7.45" height="2.30" fill="#BE1E2D" stroke="#333" stroke-width="0.9"/>
<line x1="511.20" x2="518.65" y1="840.40" y2="840.40" stroke="#333" stroke-width="1.8"/>
<circle cx="514.93" cy="830.20" r="1.95" fill="#333"/>
<circle cx="514.93" cy="835.60" r="1.95" fill="#333"/>
<line x1="523.50" x2="523.50" y1="824.40" y2="824.60" stroke="#333" stroke-width="1"/>
<line x1="523.50" x2="523.50" y1="825.80" y2="826.40" stroke="#333" stroke-width="1"/>
<rect x="519.55" y="824.60" width="7.45" height="1.20" fill="#F4B97A" stroke="#333" stroke-width="0.9"/>
<line x1="519.55" x2="527.01" y1="825.20" y2="825.20" stroke="#333" stroke-width="1.8"/>
<circle cx="523.28" cy="816.70" r="1.95" fill="#333"/>
<circle cx="523.28" cy="820.60" r="1.95" fill="#333"/>
<circle cx="523.28" cy="827.40" r="1.95" fill="#333"/>
<circle cx="523.28" cy="828.90" r="1.95" fill="#333"/>
<circle cx="523.28" cy="829.90" r="1.95" fill="#333"/>
<line x1="531.50" x2="531.50" y1="811.10" y2="814.20" stroke="#333" stroke-width="1"/>
<line x1="531.50" x2="531.50" y1="817.60" y2="818.20" stroke="#333" stroke-width="1"/>
<rect x="527.91" y="814.20" width="7.45" height="3.40" fill="#A84CB0" stroke="#333" stroke-width="0.9"/>
<line x1="527.91" x2="535.36" y1="815.10" y2="815.10" stroke="#333" stroke-width="1.8"/>
<circle cx="531.63" cy="823.00" r="1.95" fill="#333"/>
<line x1="539.50" x2="539.50" y1="832.40" y2="835.70" stroke="#333" stroke-width="1"/>
<line x1="539.50" x2="539.50" y1="843.40" y2="846.70" stroke="#333" stroke-width="1"/>
<rect x="536.26" y="835.70" width="7.45" height="7.70" fill="#7DD67D" stroke="#333" stroke-width="0.9"/>
<line x1="536.26" x2="543.71" y1="839.30" y2="839.30" stroke="#333" stroke-width="1.8"/>
<rect x="575.1" y="760.20" width="13.7" height="97.09" fill="#F2F2F2"/>
<line x1="582" x2="582" y1="761.53" y2="772.73" stroke="#333" stroke-width="0.9"/>
<rect x="576.9" y="763.53" width="10.3" height="7.2" fill="#D4A52A" stroke="#333" stroke-width="0.9"/>
<line x1="576.9" x2="587.2" y1="767.13" y2="767.13" stroke="#333" stroke-width="1.6"/>
<text x="595.3" y="770.53" font-size="10.45" fill="#000">PRSice-2(C+T)</text>
<line x1="582" x2="582" y1="775.40" y2="786.60" stroke="#333" stroke-width="0.9"/>
<rect x="576.9" y="777.40" width="10.3" height="7.2" fill="#3D8CC4" stroke="#333" stroke-width="0.9"/>
<line x1="576.9" x2="587.2" y1="781.00" y2="781.00" stroke="#333" stroke-width="1.6"/>
<text x="595.3" y="784.40" font-size="10.45" fill="#000">STGBLUP</text>
<line x1="582" x2="582" y1="789.27" y2="800.47" stroke="#333" stroke-width="0.9"/>
<rect x="576.9" y="791.27" width="10.3" height="7.2" fill="#F06464" stroke="#333" stroke-width="0.9"/>
<line x1="576.9" x2="587.2" y1="794.87" y2="794.87" stroke="#333" stroke-width="1.6"/>
<text x="595.3" y="798.27" font-size="10.45" fill="#000">wMT-BLUP</text>
<line x1="582" x2="582" y1="803.14" y2="814.34" stroke="#333" stroke-width="0.9"/>
<rect x="576.9" y="805.14" width="10.3" height="7.2" fill="#BE1E2D" stroke="#333" stroke-width="0.9"/>
<line x1="576.9" x2="587.2" y1="808.74" y2="808.74" stroke="#333" stroke-width="1.6"/>
<text x="595.3" y="812.14" font-size="10.45" fill="#000">MTGBLUP</text>
<line x1="582" x2="582" y1="817.01" y2="828.21" stroke="#333" stroke-width="0.9"/>
<rect x="576.9" y="819.01" width="10.3" height="7.2" fill="#F4B97A" stroke="#333" stroke-width="0.9"/>
<line x1="576.9" x2="587.2" y1="822.61" y2="822.61" stroke="#333" stroke-width="1.6"/>
<text x="595.3" y="826.01" font-size="10.45" fill="#000">LGC-model-1(0.01)</text>
<line x1="582" x2="582" y1="830.88" y2="842.08" stroke="#333" stroke-width="0.9"/>
<rect x="576.9" y="832.88" width="10.3" height="7.2" fill="#A84CB0" stroke="#333" stroke-width="0.9"/>
<line x1="576.9" x2="587.2" y1="836.48" y2="836.48" stroke="#333" stroke-width="1.6"/>
<text x="595.3" y="839.88" font-size="10.45" fill="#000">LGC-model-2(0.6)</text>
<line x1="582" x2="582" y1="844.75" y2="855.95" stroke="#333" stroke-width="0.9"/>
<rect x="576.9" y="846.75" width="10.3" height="7.2" fill="#7DD67D" stroke="#333" stroke-width="0.9"/>
<line x1="576.9" x2="587.2" y1="850.35" y2="850.35" stroke="#333" stroke-width="1.6"/>
<text x="595.3" y="853.75" font-size="10.45" fill="#000">LGC-model-3(0.01)</text>
</svg>
</body></html>
